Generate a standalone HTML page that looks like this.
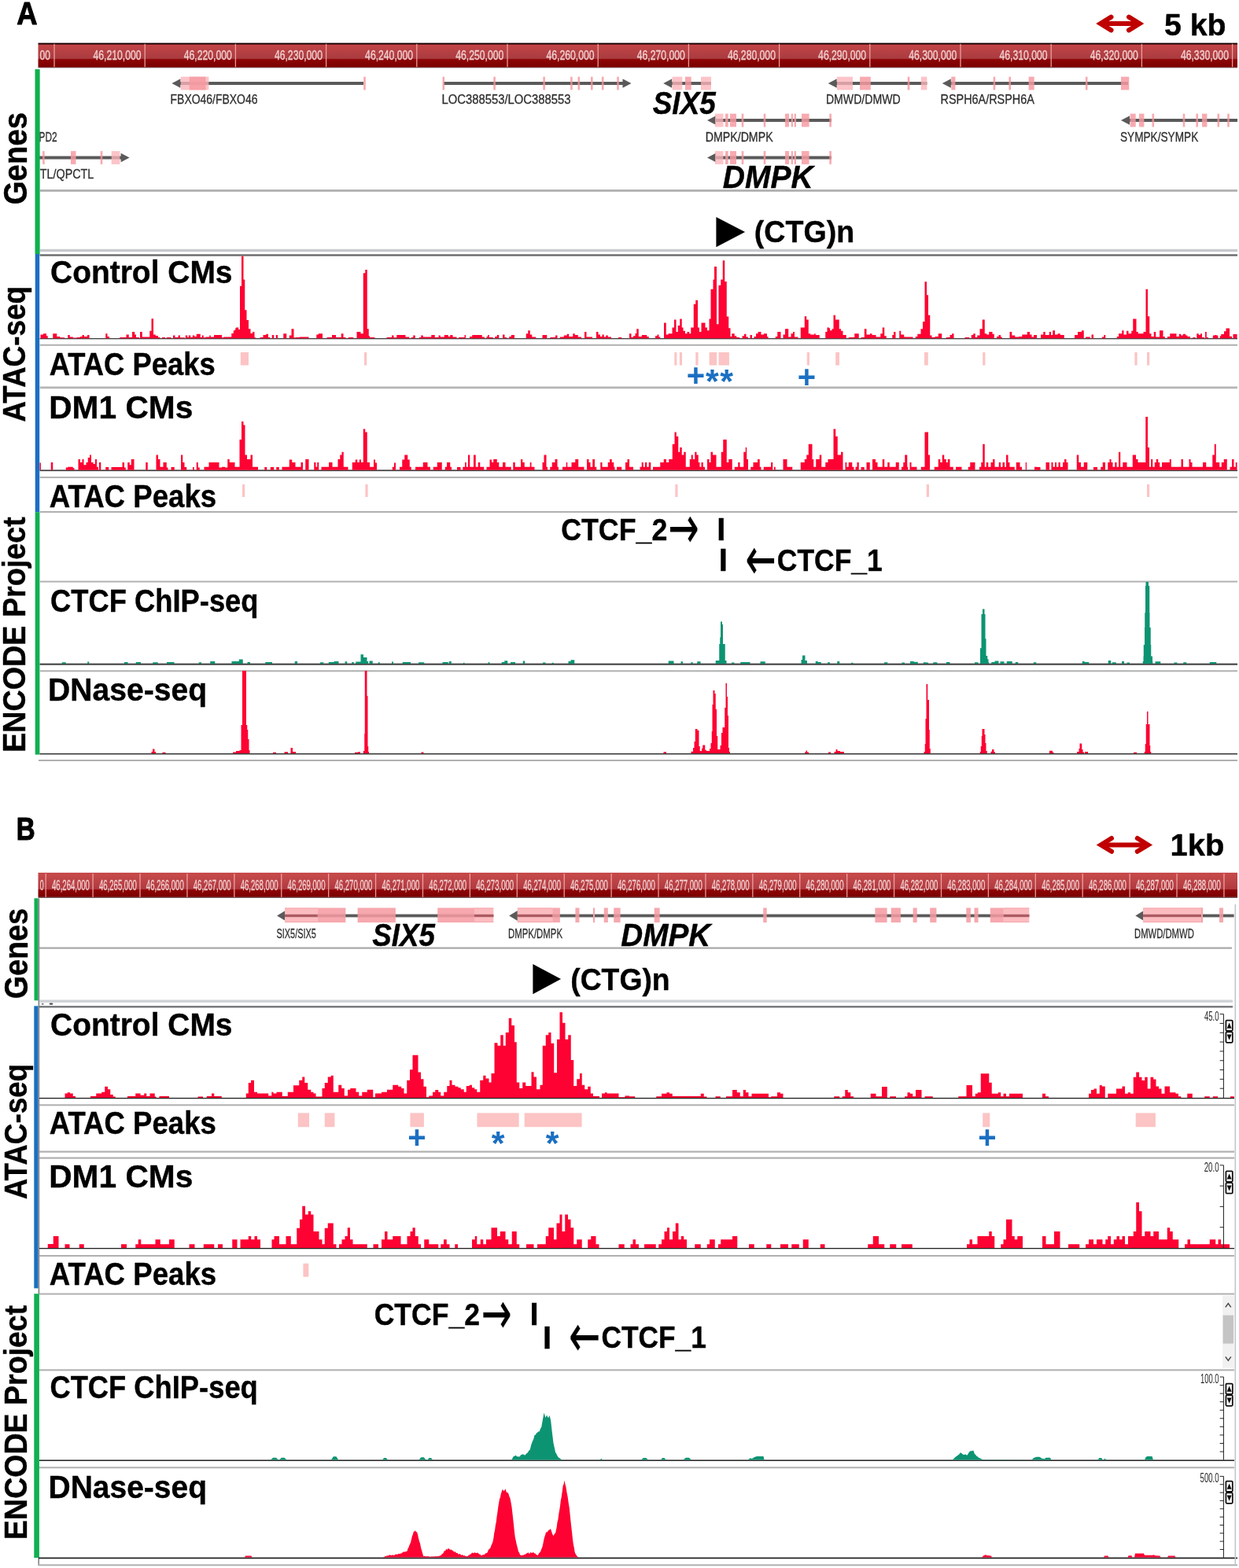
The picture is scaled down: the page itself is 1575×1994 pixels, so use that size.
<!DOCTYPE html>
<html lang="en">
<head>
<meta charset="utf-8">
<title>ATAC-seq genome browser tracks at the DMPK locus</title>
<style>
html,body{margin:0;padding:0;background:#fff;}
body{width:1575px;height:1994px;overflow:hidden;}
svg{display:block;}
text{font-family:"Liberation Sans", sans-serif;white-space:pre;}
text.dv{font-family:"DejaVu Sans", sans-serif;}
</style>
</head>
<body>
<svg width="1575" height="1994" viewBox="0 0 1575 1994" role="img" aria-label="Genome browser tracks of ATAC-seq, CTCF ChIP-seq and DNase-seq at the DMPK locus">
<rect x="0" y="0" width="1575" height="1994" fill="#ffffff"/>
<defs>
<linearGradient id="rulA" x1="0" y1="0" x2="0" y2="1">
<stop offset="0" stop-color="#160000"/><stop offset="0.05" stop-color="#160000"/>
<stop offset="0.07" stop-color="#c34446"/><stop offset="0.62" stop-color="#a93c40"/>
<stop offset="0.66" stop-color="#8e0608"/><stop offset="0.94" stop-color="#7c0000"/>
<stop offset="1" stop-color="#8a6a70"/>
</linearGradient>
<linearGradient id="rulB" x1="0" y1="0" x2="0" y2="1">
<stop offset="0" stop-color="#c2393c"/>
<stop offset="0.06" stop-color="#c64a4a"/><stop offset="0.64" stop-color="#b03a40"/>
<stop offset="0.68" stop-color="#8e0608"/><stop offset="0.93" stop-color="#7c0000"/>
<stop offset="1" stop-color="#7a7478"/>
</linearGradient>
<filter id="soft" x="-5%" y="-50%" width="110%" height="200%"><feGaussianBlur stdDeviation="0.45"/></filter>
<filter id="soft2" x="-5%" y="-50%" width="110%" height="200%"><feGaussianBlur stdDeviation="0.3"/></filter>
</defs>
<text x="21.22" y="31.00" font-size="41.4" font-weight="bold" fill="#000" textLength="26.30" lengthAdjust="spacingAndGlyphs" stroke="#000" stroke-width="1.0" stroke-linejoin="round">A</text>
<g fill="none" stroke="#c00000" stroke-width="6.0" stroke-linecap="round" stroke-linejoin="miter" stroke-miterlimit="6"><path d="M1400.88 30.00H1446.62" stroke-linecap="butt"/><path d="M1412.49 21.60L1398.88 30.00L1412.49 38.40"/><path d="M1435.01 21.60L1448.62 30.00L1435.01 38.40"/></g>
<text x="1479.91" y="45.20" font-size="38" font-weight="bold" fill="#000" textLength="78.69" lengthAdjust="spacingAndGlyphs" stroke="#000" stroke-width="0.4" stroke-linejoin="round">5 kb</text>
<rect x="48.50" y="54.60" width="1524.50" height="31.80" fill="url(#rulA)" />
<rect x="68.35" y="55.80" width="1.30" height="29.40" fill="#f3a9a9" opacity="0.9"/>
<rect x="183.55" y="55.80" width="1.30" height="29.40" fill="#f3a9a9" opacity="0.9"/>
<rect x="298.75" y="55.80" width="1.30" height="29.40" fill="#f3a9a9" opacity="0.9"/>
<rect x="413.95" y="55.80" width="1.30" height="29.40" fill="#f3a9a9" opacity="0.9"/>
<rect x="529.15" y="55.80" width="1.30" height="29.40" fill="#f3a9a9" opacity="0.9"/>
<rect x="644.35" y="55.80" width="1.30" height="29.40" fill="#f3a9a9" opacity="0.9"/>
<rect x="759.55" y="55.80" width="1.30" height="29.40" fill="#f3a9a9" opacity="0.9"/>
<rect x="874.75" y="55.80" width="1.30" height="29.40" fill="#f3a9a9" opacity="0.9"/>
<rect x="989.95" y="55.80" width="1.30" height="29.40" fill="#f3a9a9" opacity="0.9"/>
<rect x="1105.15" y="55.80" width="1.30" height="29.40" fill="#f3a9a9" opacity="0.9"/>
<rect x="1220.35" y="55.80" width="1.30" height="29.40" fill="#f3a9a9" opacity="0.9"/>
<rect x="1335.55" y="55.80" width="1.30" height="29.40" fill="#f3a9a9" opacity="0.9"/>
<rect x="1450.75" y="55.80" width="1.30" height="29.40" fill="#f3a9a9" opacity="0.9"/>
<rect x="1565.95" y="55.80" width="1.30" height="29.40" fill="#f3a9a9" opacity="0.9"/>
<g filter="url(#soft2)">
<text x="118.51" y="76.40" font-size="15.8" font-weight="normal" fill="#f8dcdc" textLength="61.03" lengthAdjust="spacingAndGlyphs" stroke="#fbe6e6" stroke-width="0.3" opacity="0.9">46,210,000</text>
<text x="233.71" y="76.40" font-size="15.8" font-weight="normal" fill="#f8dcdc" textLength="61.03" lengthAdjust="spacingAndGlyphs" stroke="#fbe6e6" stroke-width="0.3" opacity="0.9">46,220,000</text>
<text x="348.91" y="76.40" font-size="15.8" font-weight="normal" fill="#f8dcdc" textLength="61.03" lengthAdjust="spacingAndGlyphs" stroke="#fbe6e6" stroke-width="0.3" opacity="0.9">46,230,000</text>
<text x="464.11" y="76.40" font-size="15.8" font-weight="normal" fill="#f8dcdc" textLength="61.03" lengthAdjust="spacingAndGlyphs" stroke="#fbe6e6" stroke-width="0.3" opacity="0.9">46,240,000</text>
<text x="579.31" y="76.40" font-size="15.8" font-weight="normal" fill="#f8dcdc" textLength="61.03" lengthAdjust="spacingAndGlyphs" stroke="#fbe6e6" stroke-width="0.3" opacity="0.9">46,250,000</text>
<text x="694.51" y="76.40" font-size="15.8" font-weight="normal" fill="#f8dcdc" textLength="61.03" lengthAdjust="spacingAndGlyphs" stroke="#fbe6e6" stroke-width="0.3" opacity="0.9">46,260,000</text>
<text x="809.71" y="76.40" font-size="15.8" font-weight="normal" fill="#f8dcdc" textLength="61.03" lengthAdjust="spacingAndGlyphs" stroke="#fbe6e6" stroke-width="0.3" opacity="0.9">46,270,000</text>
<text x="924.91" y="76.40" font-size="15.8" font-weight="normal" fill="#f8dcdc" textLength="61.03" lengthAdjust="spacingAndGlyphs" stroke="#fbe6e6" stroke-width="0.3" opacity="0.9">46,280,000</text>
<text x="1040.11" y="76.40" font-size="15.8" font-weight="normal" fill="#f8dcdc" textLength="61.03" lengthAdjust="spacingAndGlyphs" stroke="#fbe6e6" stroke-width="0.3" opacity="0.9">46,290,000</text>
<text x="1155.31" y="76.40" font-size="15.8" font-weight="normal" fill="#f8dcdc" textLength="61.03" lengthAdjust="spacingAndGlyphs" stroke="#fbe6e6" stroke-width="0.3" opacity="0.9">46,300,000</text>
<text x="1270.51" y="76.40" font-size="15.8" font-weight="normal" fill="#f8dcdc" textLength="61.03" lengthAdjust="spacingAndGlyphs" stroke="#fbe6e6" stroke-width="0.3" opacity="0.9">46,310,000</text>
<text x="1385.71" y="76.40" font-size="15.8" font-weight="normal" fill="#f8dcdc" textLength="61.03" lengthAdjust="spacingAndGlyphs" stroke="#fbe6e6" stroke-width="0.3" opacity="0.9">46,320,000</text>
<text x="1500.91" y="76.40" font-size="15.8" font-weight="normal" fill="#f8dcdc" textLength="61.03" lengthAdjust="spacingAndGlyphs" stroke="#fbe6e6" stroke-width="0.3" opacity="0.9">46,330,000</text>
<text x="50.62" y="76.40" font-size="15.8" font-weight="normal" fill="#f8dcdc" textLength="13.42" lengthAdjust="spacingAndGlyphs" stroke="#fbe6e6" stroke-width="0.3" opacity="0.9">00</text>
</g>
<rect x="44.70" y="88.20" width="5.70" height="234.70" fill="#10b050" />
<rect x="44.70" y="322.90" width="5.50" height="328.30" fill="#1b6fc2" />
<rect x="44.70" y="651.20" width="5.70" height="308.40" fill="#10b050" />
<text x="34.40" y="260.28" font-size="42.5" font-weight="bold" fill="#000" textLength="117.51" lengthAdjust="spacingAndGlyphs" transform="rotate(-90 34.40 260.28)" stroke="#000" stroke-width="0.4" stroke-linejoin="round">Genes</text>
<text x="32.50" y="536.82" font-size="40" font-weight="bold" fill="#000" textLength="172.97" lengthAdjust="spacingAndGlyphs" transform="rotate(-90 32.50 536.82)" stroke="#000" stroke-width="0.4" stroke-linejoin="round">ATAC-seq</text>
<text x="32.50" y="956.83" font-size="41" font-weight="bold" fill="#000" textLength="299.55" lengthAdjust="spacingAndGlyphs" transform="rotate(-90 32.50 956.83)" stroke="#000" stroke-width="0.4" stroke-linejoin="round">ENCODE Project</text>
<rect x="50.50" y="241.00" width="1522.50" height="2.80" fill="#b0b0b0" />
<rect x="50.50" y="316.80" width="1522.50" height="3.40" fill="#c6c9cd" />
<rect x="50.50" y="323.30" width="1522.50" height="2.40" fill="#6a6a6a" />
<rect x="50.50" y="430.10" width="1522.50" height="1.20" fill="#2e2e2e" />
<rect x="50.50" y="437.80" width="1522.50" height="2.00" fill="#b0b0b0" />
<rect x="50.50" y="491.50" width="1522.50" height="2.80" fill="#b6b6b6" />
<rect x="50.50" y="597.45" width="1522.50" height="1.70" fill="#3a3a3a" />
<rect x="50.50" y="606.10" width="1522.50" height="2.00" fill="#b0b0b0" />
<rect x="50.50" y="650.00" width="1522.50" height="2.00" fill="#b0b0b0" />
<rect x="50.50" y="738.60" width="1522.50" height="2.00" fill="#b2b2b2" />
<rect x="50.50" y="843.60" width="1522.50" height="2.20" fill="#484848" />
<rect x="50.50" y="852.30" width="1522.50" height="2.00" fill="#b0b0b0" />
<rect x="50.50" y="957.90" width="1522.50" height="1.60" fill="#3a3a3a" />
<rect x="49.00" y="966.00" width="1524.00" height="2.00" fill="#b0b0b0" />
<g filter="url(#soft)">
<rect x="228.40" y="104.00" width="233.60" height="4.00" fill="#5a5a5a" />
<polygon points="218.40,106.00 229.40,100.25 229.40,111.75" fill="#5a5a5a" />
<rect x="229.80" y="97.60" width="35.60" height="16.80" fill="#fbb4b8" opacity="0.78"/>
<rect x="240.80" y="97.60" width="20.80" height="16.80" fill="#f59aa1" opacity="0.84"/>
<rect x="462.20" y="97.60" width="2.60" height="16.80" fill="#f7939b" opacity="0.8"/>
<rect x="563.80" y="104.00" width="228.70" height="4.00" fill="#5a5a5a" />
<polygon points="802.50,106.00 791.50,100.25 791.50,111.75" fill="#5a5a5a" />
<rect x="562.50" y="97.60" width="2.60" height="16.80" fill="#f7939b" opacity="0.8"/>
<rect x="627.30" y="97.60" width="2.60" height="16.80" fill="#f7939b" opacity="0.8"/>
<rect x="690.30" y="97.60" width="2.60" height="16.80" fill="#f7939b" opacity="0.8"/>
<rect x="725.10" y="97.60" width="2.60" height="16.80" fill="#f7939b" opacity="0.8"/>
<rect x="734.50" y="97.60" width="2.60" height="16.80" fill="#f7939b" opacity="0.8"/>
<rect x="751.00" y="97.60" width="2.60" height="16.80" fill="#f7939b" opacity="0.8"/>
<rect x="764.90" y="97.60" width="2.60" height="16.80" fill="#f7939b" opacity="0.8"/>
<rect x="784.20" y="97.60" width="2.60" height="16.80" fill="#f7939b" opacity="0.8"/>
<rect x="853.20" y="104.00" width="50.80" height="4.00" fill="#5a5a5a" />
<polygon points="843.20,106.00 854.20,100.25 854.20,111.75" fill="#5a5a5a" />
<rect x="854.60" y="97.60" width="12.70" height="16.80" fill="#fbb4b8" opacity="0.78"/>
<rect x="891.00" y="97.60" width="13.00" height="16.80" fill="#fbb4b8" opacity="0.78"/>
<rect x="871.00" y="97.60" width="7.70" height="16.80" fill="#f59aa1" opacity="0.84"/>
<rect x="1062.70" y="104.00" width="115.70" height="4.00" fill="#5a5a5a" />
<polygon points="1052.70,106.00 1063.70,100.25 1063.70,111.75" fill="#5a5a5a" />
<rect x="1064.00" y="97.60" width="20.00" height="16.80" fill="#fbb4b8" opacity="0.78"/>
<rect x="1170.80" y="97.60" width="7.60" height="16.80" fill="#fbb4b8" opacity="0.78"/>
<rect x="1093.00" y="97.60" width="13.80" height="16.80" fill="#f59aa1" opacity="0.84"/>
<rect x="1153.70" y="97.60" width="2.60" height="16.80" fill="#f7939b" opacity="0.8"/>
<rect x="1207.80" y="104.00" width="226.20" height="4.00" fill="#5a5a5a" />
<polygon points="1197.80,106.00 1208.80,100.25 1208.80,111.75" fill="#5a5a5a" />
<rect x="1209.30" y="97.60" width="5.10" height="16.80" fill="#f59aa1" opacity="0.84"/>
<rect x="1307.60" y="97.60" width="7.10" height="16.80" fill="#f59aa1" opacity="0.84"/>
<rect x="1425.00" y="97.60" width="10.30" height="16.80" fill="#f59aa1" opacity="0.84"/>
<rect x="1262.60" y="97.60" width="2.60" height="16.80" fill="#f7939b" opacity="0.8"/>
<rect x="1282.40" y="97.60" width="2.60" height="16.80" fill="#f7939b" opacity="0.8"/>
<rect x="1379.90" y="97.60" width="2.60" height="16.80" fill="#f7939b" opacity="0.8"/>
<rect x="909.00" y="151.00" width="148.00" height="4.00" fill="#5a5a5a" />
<polygon points="899.00,153.00 910.00,147.25 910.00,158.75" fill="#5a5a5a" />
<rect x="909.00" y="144.60" width="10.40" height="16.80" fill="#fbb4b8" opacity="0.78"/>
<rect x="922.00" y="144.60" width="3.70" height="16.80" fill="#f59aa1" opacity="0.84"/>
<rect x="928.00" y="144.60" width="8.00" height="16.80" fill="#f59aa1" opacity="0.84"/>
<rect x="998.00" y="144.60" width="5.00" height="16.80" fill="#f59aa1" opacity="0.84"/>
<rect x="1005.70" y="144.60" width="2.30" height="16.80" fill="#f59aa1" opacity="0.84"/>
<rect x="1009.60" y="144.60" width="2.40" height="16.80" fill="#f59aa1" opacity="0.84"/>
<rect x="1019.00" y="144.60" width="9.60" height="16.80" fill="#f59aa1" opacity="0.84"/>
<rect x="942.70" y="144.60" width="2.60" height="16.80" fill="#f7939b" opacity="0.8"/>
<rect x="970.70" y="144.60" width="2.60" height="16.80" fill="#f7939b" opacity="0.8"/>
<rect x="1054.30" y="144.60" width="2.60" height="16.80" fill="#f7939b" opacity="0.8"/>
<rect x="909.00" y="198.50" width="148.00" height="4.00" fill="#5a5a5a" />
<polygon points="899.00,200.50 910.00,194.75 910.00,206.25" fill="#5a5a5a" />
<rect x="909.00" y="192.10" width="10.40" height="16.80" fill="#fbb4b8" opacity="0.78"/>
<rect x="922.00" y="192.10" width="3.70" height="16.80" fill="#f59aa1" opacity="0.84"/>
<rect x="928.00" y="192.10" width="8.00" height="16.80" fill="#f59aa1" opacity="0.84"/>
<rect x="998.00" y="192.10" width="5.00" height="16.80" fill="#f59aa1" opacity="0.84"/>
<rect x="1005.70" y="192.10" width="2.30" height="16.80" fill="#f59aa1" opacity="0.84"/>
<rect x="1009.60" y="192.10" width="2.40" height="16.80" fill="#f59aa1" opacity="0.84"/>
<rect x="1019.00" y="192.10" width="9.60" height="16.80" fill="#f59aa1" opacity="0.84"/>
<rect x="942.70" y="192.10" width="2.60" height="16.80" fill="#f7939b" opacity="0.8"/>
<rect x="970.70" y="192.10" width="2.60" height="16.80" fill="#f7939b" opacity="0.8"/>
<rect x="1054.30" y="192.10" width="2.60" height="16.80" fill="#f7939b" opacity="0.8"/>
<rect x="1435.00" y="151.00" width="138.00" height="4.00" fill="#5a5a5a" />
<polygon points="1425.00,153.00 1436.00,147.25 1436.00,158.75" fill="#5a5a5a" />
<rect x="1436.60" y="144.60" width="7.10" height="16.80" fill="#f59aa1" opacity="0.84"/>
<rect x="1448.00" y="144.60" width="6.40" height="16.80" fill="#f59aa1" opacity="0.84"/>
<rect x="1528.00" y="144.60" width="6.40" height="16.80" fill="#f59aa1" opacity="0.84"/>
<rect x="1464.50" y="144.60" width="2.60" height="16.80" fill="#f7939b" opacity="0.8"/>
<rect x="1503.70" y="144.60" width="2.60" height="16.80" fill="#f7939b" opacity="0.8"/>
<rect x="1520.40" y="144.60" width="2.60" height="16.80" fill="#f7939b" opacity="0.8"/>
<rect x="1547.50" y="144.60" width="2.60" height="16.80" fill="#f7939b" opacity="0.8"/>
<rect x="1560.20" y="144.60" width="2.60" height="16.80" fill="#f7939b" opacity="0.8"/>
<rect x="50.00" y="198.50" width="104.60" height="4.00" fill="#5a5a5a" />
<polygon points="164.60,200.50 153.60,194.75 153.60,206.25" fill="#5a5a5a" />
<rect x="141.70" y="192.10" width="10.70" height="16.80" fill="#fbb4b8" opacity="0.78"/>
<rect x="90.00" y="192.10" width="6.50" height="16.80" fill="#f59aa1" opacity="0.84"/>
<rect x="54.10" y="192.10" width="2.60" height="16.80" fill="#f7939b" opacity="0.8"/>
<rect x="127.70" y="192.10" width="2.60" height="16.80" fill="#f7939b" opacity="0.8"/>
<text x="216.55" y="132.30" font-size="16.6" font-weight="normal" fill="#2e2e2e" textLength="110.89" lengthAdjust="spacingAndGlyphs" stroke="#2e2e2e" stroke-width="0.3">FBXO46/FBXO46</text>
<text x="561.38" y="132.30" font-size="16.6" font-weight="normal" fill="#2e2e2e" textLength="164.15" lengthAdjust="spacingAndGlyphs" stroke="#2e2e2e" stroke-width="0.3">LOC388553/LOC388553</text>
<text x="1049.94" y="132.30" font-size="16.6" font-weight="normal" fill="#2e2e2e" textLength="94.71" lengthAdjust="spacingAndGlyphs" stroke="#2e2e2e" stroke-width="0.3">DMWD/DMWD</text>
<text x="1195.51" y="132.30" font-size="16.6" font-weight="normal" fill="#2e2e2e" textLength="119.33" lengthAdjust="spacingAndGlyphs" stroke="#2e2e2e" stroke-width="0.3">RSPH6A/RSPH6A</text>
<text x="896.73" y="180.00" font-size="16.6" font-weight="normal" fill="#2e2e2e" textLength="85.88" lengthAdjust="spacingAndGlyphs" stroke="#2e2e2e" stroke-width="0.3">DMPK/DMPK</text>
<text x="1423.98" y="180.00" font-size="16.6" font-weight="normal" fill="#2e2e2e" textLength="99.27" lengthAdjust="spacingAndGlyphs" stroke="#2e2e2e" stroke-width="0.3">SYMPK/SYMPK</text>
<text x="49.51" y="180.00" font-size="16.6" font-weight="normal" fill="#2e2e2e" textLength="23.05" lengthAdjust="spacingAndGlyphs" stroke="#2e2e2e" stroke-width="0.3">PD2</text>
<text x="50.78" y="227.00" font-size="16.6" font-weight="normal" fill="#2e2e2e" textLength="68.60" lengthAdjust="spacingAndGlyphs" stroke="#2e2e2e" stroke-width="0.3">TL/QPCTL</text>
</g>
<rect x="44.70" y="88.20" width="5.70" height="234.70" fill="#10b050" />
<text x="829.74" y="144.60" font-size="40" font-weight="bold" fill="#000" font-style="italic" textLength="80.07" lengthAdjust="spacingAndGlyphs" stroke="#000" stroke-width="0.4" stroke-linejoin="round">SIX5</text>
<text x="918.87" y="239.40" font-size="40" font-weight="bold" fill="#000" font-style="italic" textLength="114.77" lengthAdjust="spacingAndGlyphs" stroke="#000" stroke-width="0.4" stroke-linejoin="round">DMPK</text>
<text x="910.26" y="307.70" font-size="50" font-weight="bold" fill="#000" textLength="36.98" lengthAdjust="spacingAndGlyphs"  class="dv">▶</text>
<text x="958.75" y="307.50" font-size="38.5" font-weight="bold" fill="#000" textLength="127.44" lengthAdjust="spacingAndGlyphs" stroke="#000" stroke-width="0.4" stroke-linejoin="round">(CTG)n</text>
<text x="64.00" y="360.30" font-size="40" font-weight="bold" fill="#000" textLength="231.52" lengthAdjust="spacingAndGlyphs" stroke="#000" stroke-width="0.4" stroke-linejoin="round">Control CMs</text>
<text x="62.79" y="476.50" font-size="40" font-weight="bold" fill="#000" textLength="210.84" lengthAdjust="spacingAndGlyphs" stroke="#000" stroke-width="0.4" stroke-linejoin="round">ATAC Peaks</text>
<text x="62.20" y="531.60" font-size="40" font-weight="bold" fill="#000" textLength="183.21" lengthAdjust="spacingAndGlyphs" stroke="#000" stroke-width="0.4" stroke-linejoin="round">DM1 CMs</text>
<text x="62.78" y="644.60" font-size="40" font-weight="bold" fill="#000" textLength="212.36" lengthAdjust="spacingAndGlyphs" stroke="#000" stroke-width="0.4" stroke-linejoin="round">ATAC Peaks</text>
<text x="64.11" y="777.60" font-size="40" font-weight="bold" fill="#000" textLength="264.37" lengthAdjust="spacingAndGlyphs" stroke="#000" stroke-width="0.4" stroke-linejoin="round">CTCF ChIP-seq</text>
<text x="61.01" y="891.00" font-size="40" font-weight="bold" fill="#000" textLength="202.19" lengthAdjust="spacingAndGlyphs" stroke="#000" stroke-width="0.4" stroke-linejoin="round">DNase-seq</text>
<text x="713.19" y="687.00" font-size="38" font-weight="bold" fill="#000" textLength="135.10" lengthAdjust="spacingAndGlyphs" stroke="#000" stroke-width="0.4" stroke-linejoin="round">CTCF_2</text>
<text class="dv" transform="translate(849.38 697.46) scale(1 1.3)" x="0" y="0" font-size="58" font-weight="normal" fill="#000" stroke="#000" stroke-width="0.25" textLength="39.23" lengthAdjust="spacingAndGlyphs">→</text>
<text x="911.17" y="686.50" font-size="40" font-weight="bold" fill="#000" stroke="#000" stroke-width="0.4" stroke-linejoin="round">I</text>
<text x="913.67" y="726.30" font-size="40" font-weight="bold" fill="#000" stroke="#000" stroke-width="0.4" stroke-linejoin="round">I</text>
<text class="dv" transform="translate(947.59 737.16) scale(1 1.3)" x="0" y="0" font-size="58" font-weight="normal" fill="#000" stroke="#000" stroke-width="0.25" textLength="39.12" lengthAdjust="spacingAndGlyphs">←</text>
<text x="987.80" y="726.30" font-size="38" font-weight="bold" fill="#000" textLength="134.01" lengthAdjust="spacingAndGlyphs" stroke="#000" stroke-width="0.4" stroke-linejoin="round">CTCF_1</text>
<rect x="305.80" y="448.00" width="10.20" height="16.50" fill="#fcc4c4" />
<rect x="463.00" y="448.00" width="3.20" height="16.50" fill="#fcc4c4" />
<rect x="857.30" y="448.00" width="3.10" height="16.50" fill="#fcc4c4" />
<rect x="863.80" y="448.00" width="3.20" height="16.50" fill="#fcc4c4" />
<rect x="884.30" y="448.00" width="3.30" height="16.50" fill="#fcc4c4" />
<rect x="901.60" y="448.00" width="9.60" height="16.50" fill="#fcc4c4" />
<rect x="913.60" y="448.00" width="13.30" height="16.50" fill="#fcc4c4" />
<rect x="1025.80" y="448.00" width="3.20" height="16.50" fill="#fcc4c4" />
<rect x="1062.20" y="448.00" width="4.80" height="16.50" fill="#fcc4c4" />
<rect x="1175.00" y="448.00" width="4.80" height="16.50" fill="#fcc4c4" />
<rect x="1249.20" y="448.00" width="3.20" height="16.50" fill="#fcc4c4" />
<rect x="1442.40" y="448.00" width="3.20" height="16.50" fill="#fcc4c4" />
<rect x="1458.00" y="448.00" width="3.20" height="16.50" fill="#fcc4c4" />
<rect x="308.00" y="616.00" width="3.20" height="16.00" fill="#fcc4c4" />
<rect x="464.40" y="616.00" width="3.20" height="16.00" fill="#fcc4c4" />
<rect x="858.30" y="616.00" width="3.20" height="16.00" fill="#fcc4c4" />
<rect x="1177.80" y="616.00" width="3.20" height="16.00" fill="#fcc4c4" />
<rect x="1458.00" y="616.00" width="3.20" height="16.00" fill="#fcc4c4" />
<text x="872.85" y="490.75" font-size="40" font-weight="bold" fill="#1b6fc2" >+</text>
<text x="897.02" y="498.62" font-size="43" font-weight="bold" fill="#1b6fc2" >*</text>
<text x="915.33" y="498.62" font-size="43" font-weight="bold" fill="#1b6fc2" >*</text>
<text x="1013.75" y="493.25" font-size="40" font-weight="bold" fill="#1b6fc2" >+</text>
<path d="M50.50 430.20V430.20H51.50V425.58H55.00V424.26H59.00V427.23H60.75V430.20H67.25V424.26H72.25V428.05H76.25V429.21H82.25V430.20H86.25V425.91H88.75V428.55H92.75V429.54H97.75V428.88H102.00V428.05H104.50V425.91H107.00V428.05H111.00V425.91H113.50V430.20H134.25V424.26H136.50V428.05H139.00V430.20H152.25V428.88H160.50V425.58H163.75V428.88H168.00V421.95H171.25V425.58H173.00V428.88H177.00V430.20H178.00V421.95H180.75V428.55H190.25V420.63H192.50V405.27H195.00V425.58H197.75V426.90H201.00V428.88H203.50V430.20H206.00V428.88H210.00V430.20H211.75V428.88H217.50V430.20H220.00V426.40H222.50V428.88H226.50V426.40H229.00V429.21H234.75V430.20H235.75V426.40H238.25V428.88H239.75V426.40H242.25V428.88H244.75V426.40H247.25V428.05H249.75V424.75H254.75V428.88H256.75V426.40H258.75V429.21H261.25V428.55H266.25V426.40H267.75V428.55H272.00V425.91H282.00V429.21H284.25V428.55H294.25V423.93H296.75V420.63H297.50V419.80H299.25V417.32H300.00V416.50H303.25V418.97H305.00V363.67H307.00V325.70H309.50V355.42H311.25V394.21H313.50V407.09H316.00V418.15H318.50V423.93H321.00V421.95H323.50V428.88H324.75V430.20H330.50V428.88H334.50V425.91H338.25V424.75H341.00V428.88H343.25V430.20H345.75V425.91H348.25V430.20H350.75V425.91H353.00V430.20H360.25V424.26H364.25V430.20H367.75V426.40H370.50V418.15H373.50V429.21H376.00V428.88H380.75V428.55H392.50V430.20H402.25V425.58H404.75V424.26H410.00V430.20H415.50V428.88H422.00V425.91H427.00V428.88H433.75V424.26H436.50V428.88H439.50V430.20H442.75V428.88H449.25V430.20H453.50V421.95H458.50V424.26H461.75V347.17H464.25V343.04H466.75V418.15H468.75V427.23H470.00V428.88H476.50V430.20H491.50V428.88H498.00V426.40H500.50V429.21H504.25V425.91H515.50V428.55H520.25V430.20H522.75V428.88H525.25V426.40H527.75V430.20H532.75V428.88H535.25V426.40H537.75V428.55H548.25V425.91H552.75V428.88H557.50V426.40H559.75V428.55H564.75V425.91H569.75V428.05H572.25V425.91H575.50V428.55H580.50V430.20H583.00V428.88H590.50V425.91H592.00V430.20H597.00V428.05H600.25V425.91H612.75V428.55H616.00V430.20H618.50V428.05H620.00V425.91H621.75V428.88H626.75V430.20H629.25V428.05H631.75V425.91H634.25V430.20H639.00V425.58H641.50V428.88H644.00V430.20H647.25V428.05H649.75V425.91H654.00V430.20H668.75V424.26H671.25V420.30H673.75V425.58H676.25V428.55H681.25V430.20H689.50V425.91H695.25V430.20H699.25V428.88H706.00V426.40H708.50V430.20H711.75V428.55H716.75V426.40H720.75V424.75H723.25V428.05H728.25V424.26H730.75V425.91H734.75V428.55H739.00V430.20H743.00V421.95H745.50V428.55H753.00V430.20H758.00V421.95H760.50V425.58H763.00V428.05H765.50V425.58H767.75V428.55H770.25V426.40H772.75V428.55H777.00V430.20H786.00V428.88H790.25V430.20H800.00V424.26H802.50V428.88H805.00V427.23H807.50V423.93H809.25V418.15H811.75V428.05H815.75V425.91H822.25V428.05H824.75V430.20H833.00V427.23H835.50V425.58H837.50V428.55H839.25V430.20H844.00V410.39H846.75V425.58H849.50V424.26H854.50V416.50H857.00V406.59H859.50V421.95H861.75V414.02H864.25V405.44H866.75V416.50H868.50V420.63H871.00V424.26H873.50V421.95H876.25V424.26H878.25V416.50H881.75V386.78H884.25V381.83H887.00V416.50H889.00V421.95H891.50V410.39H896.50V416.50H899.00V420.30H901.50V405.44H903.50V367.80H906.50V355.42H908.00V338.91H911.00V412.37H913.50V362.85H916.25V355.42H918.75V331.15H921.25V357.90H923.75V402.47H926.25V417.32H928.50V428.05H930.25V424.26H933.75V427.23H936.25V428.88H940.25V430.20H943.50V427.23H946.00V424.75H948.50V428.55H951.00V430.20H953.50V425.91H956.00V430.20H958.50V428.05H961.00V424.26H963.50V421.95H967.50V425.58H970.75V424.26H975.00V428.05H976.50V430.20H985.75V428.05H988.25V421.95H992.50V430.20H995.50V425.58H998.00V418.15H1002.25V428.55H1005.50V424.26H1008.00V421.95H1010.00V428.55H1014.50V430.20H1017.75V416.50H1022.75V402.14H1025.25V406.59H1027.75V424.26H1030.25V425.58H1035.25V424.26H1036.75V425.91H1041.75V430.20H1049.25V421.95H1051.50V416.50H1054.00V417.32H1055.00V420.30H1057.50V418.15H1059.50V400.82H1062.00V406.59H1066.75V418.15H1069.00V420.63H1071.50V425.91H1075.75V430.20H1078.75V428.88H1086.25V424.26H1091.75V430.20H1094.50V428.88H1098.75V418.15H1101.50V425.58H1106.00V424.26H1108.50V425.91H1113.50V428.55H1119.25V424.26H1121.75V416.50H1124.25V427.23H1126.75V430.20H1134.25V425.91H1136.00V421.95H1138.50V430.20H1143.25V420.63H1145.25V425.58H1149.25V428.55H1160.50V430.20H1163.75V428.05H1166.25V424.75H1170.50V418.15H1173.00V409.07H1175.50V358.23H1178.00V375.23H1180.00V400.82H1182.25V426.40H1184.50V428.88H1188.50V428.05H1192.75V424.26H1197.25V430.20H1202.75V428.88H1207.50V425.91H1210.00V424.26H1212.50V430.20H1226.50V428.88H1232.25V430.20H1234.75V425.91H1237.25V424.26H1239.75V428.88H1242.25V426.40H1245.50V418.15H1248.75V406.59H1251.75V424.26H1254.25V425.58H1257.25V421.95H1261.50V424.75H1263.75V430.20H1267.00V428.05H1269.50V425.91H1272.00V428.55H1273.75V430.20H1283.50V421.95H1286.25V426.40H1290.25V428.55H1295.00V428.05H1299.25V425.58H1305.75V421.95H1309.00V425.58H1311.50V428.55H1314.00V425.91H1318.00V430.20H1323.00V425.58H1326.25V421.95H1328.75V425.91H1333.75V421.95H1336.00V425.91H1338.25V420.30H1341.00V425.58H1344.50V424.26H1347.75V425.91H1352.75V430.20H1366.00V425.91H1370.00V421.95H1375.00V420.30H1377.75V430.20H1380.00V428.55H1385.75V430.20H1387.50V425.58H1390.00V430.20H1400.75V428.55H1403.25V425.91H1405.25V430.20H1419.75V428.05H1422.00V424.26H1426.25V420.30H1428.50V425.58H1432.00V420.63H1434.50V424.26H1438.25V420.63H1440.25V405.44H1444.50V421.95H1446.75V424.26H1453.50V421.95H1456.50V367.80H1459.00V402.14H1461.25V424.26H1463.50V428.05H1466.75V421.95H1469.25V428.55H1474.00V420.30H1478.50V428.05H1480.75V430.20H1484.00V428.05H1487.25V424.26H1495.50V428.05H1498.75V424.75H1501.25V426.40H1503.75V424.75H1507.25V426.40H1509.50V428.05H1513.00V430.20H1516.25V428.88H1519.50V430.20H1521.25V424.26H1523.75V425.91H1526.00V424.26H1528.00V428.88H1531.00V430.20H1532.00V421.95H1533.75V428.88H1536.00V430.20H1541.75V427.23H1542.00V426.39H1544.25V425.91H1546.25V426.39H1548.25V428.55H1548.50V430.20H1550.75V427.23H1552.25V425.12H1556.00V421.31H1558.50V417.50H1563.00V427.66H1566.00V430.20H1567.50V425.12H1572.50V430.20H1573.25V430.20Z" fill="#fd0232" />
<path d="M50.50 597.80V588.39H52.00V597.80H64.75V587.90H67.25V597.80H83.75V594.50H86.25V593.67H92.75V595.32H94.50V597.80H99.50V584.10H102.00V587.90H104.50V584.10H106.50V591.20H109.50V587.90H111.75V582.12H114.00V578.49H116.00V587.90H118.50V590.04H121.00V584.10H123.00V593.67H125.00V597.80H126.00V587.90H128.25V597.80H134.25V594.00H138.25V597.80H141.50V594.00H155.50V587.90H158.00V594.50H159.75V597.80H162.25V587.90H164.75V591.20H166.75V584.10H170.50V597.80H185.25V587.90H187.75V597.80H198.50V578.49H201.00V584.10H203.50V593.67H207.50V587.90H211.75V594.50H213.50V597.80H217.50V594.00H221.75V597.80H230.00V578.49H232.25V587.90H234.50V594.00H237.25V597.80H245.00V594.00H246.75V597.80H249.75V587.90H251.75V594.50H253.75V597.80H259.50V593.67H265.50V587.90H278.50V594.50H282.00V593.67H286.00V594.50H289.25V584.10H291.75V587.90H298.50V593.67H304.50V559.01H307.00V535.90H309.50V540.52H311.50V578.49H314.00V584.10H318.50V578.49H321.00V593.67H328.00V597.80H336.25V594.00H339.25V597.80H343.75V594.00H348.25V597.80H351.25V594.00H354.75V597.80H358.50V593.67H367.75V584.59H371.25V587.90H375.50V593.67H382.50V587.90H385.00V597.80H388.25V584.10H392.50V597.80H399.25V587.90H401.50V593.67H403.25V587.90H405.25V597.80H408.50V593.67H418.00V587.90H422.50V593.67H429.50V584.10H432.25V578.49H434.50V574.69H436.75V593.67H442.50V597.80H447.75V587.90H451.75V584.59H454.25V587.90H456.75V584.59H459.00V587.90H461.75V545.47H464.25V549.43H466.75V587.90H470.00V593.67H475.00V584.59H477.00V588.39H479.00V597.80H498.75V593.67H501.00V588.39H503.00V597.80H508.00V593.67H511.25V584.59H514.25V578.49H518.25V584.59H520.75V593.67H522.75V597.80H528.00V593.67H537.75V587.90H543.50V593.67H547.00V597.80H550.75V593.67H555.75V587.90H561.75V597.80H565.75V593.67H568.00V587.90H572.25V593.67H574.00V597.80H581.00V594.00H585.50V597.80H588.25V593.67H591.00V587.90H592.75V593.67H595.00V578.49H597.25V593.67H602.00V578.49H604.75V593.67H607.75V587.90H610.25V593.67H615.25V597.80H618.50V593.67H622.50V584.59H625.00V587.90H627.25V584.10H631.75V587.90H634.25V593.67H639.00V587.90H642.50V593.67H649.75V597.80H652.25V587.90H654.75V593.67H662.00V584.10H664.25V587.90H666.75V593.67H673.75V587.90H675.50V593.67H679.50V597.80H689.50V587.90H691.50V578.49H694.50V593.67H696.00V597.80H699.25V593.67H701.75V587.90H705.50V584.10H708.50V593.67H710.00V597.80H715.00V593.67H719.75V587.90H721.25V593.67H726.50V587.90H731.25V584.10H735.25V593.67H742.50V597.80H746.00V584.10H748.50V587.90H750.50V593.67H753.25V584.10H756.00V593.67H758.25V597.80H763.25V587.90H765.50V593.67H772.75V587.90H775.00V584.10H777.75V587.90H780.25V593.67H781.50V597.80H784.00V593.67H790.25V597.80H795.00V587.90H797.50V584.10H800.00V593.67H805.00V597.80H813.50V593.67H815.75V587.90H817.75V593.67H820.00V587.90H822.25V593.67H824.75V587.90H827.25V597.80H830.00V593.67H839.25V587.90H843.75V584.10H847.00V587.90H850.25V584.10H854.75V564.78H857.50V549.43H859.75V554.88H862.25V574.69H864.25V568.91H866.75V578.49H869.25V574.69H871.75V593.67H876.75V584.10H878.75V578.49H880.75V584.10H883.25V574.69H885.50V578.49H887.75V587.90H889.50V593.67H891.50V587.90H893.75V593.67H896.00V597.80H899.00V584.10H901.50V587.90H903.50V574.69H906.00V578.49H910.50V593.67H916.75V574.69H919.25V559.01H923.75V587.90H926.25V584.10H930.75V597.80H933.75V593.67H938.25V587.90H940.50V593.67H945.25V574.69H947.75V568.91H949.25V584.10H951.00V597.80H954.25V593.67H957.50V587.90H963.00V584.10H965.75V593.67H967.50V597.80H970.75V593.67H980.00V587.90H982.25V597.80H984.00V593.67H985.75V597.80H995.50V584.10H1000.50V593.67H1007.25V597.80H1017.75V587.90H1022.75V584.10H1025.25V578.49H1027.75V564.78H1032.50V584.10H1034.25V593.67H1037.25V584.10H1041.75V578.49H1044.25V593.67H1049.25V587.90H1052.50V584.10H1059.50V545.47H1062.25V554.88H1064.75V578.49H1069.00V574.69H1071.50V597.80H1074.50V587.90H1076.25V593.67H1078.75V587.90H1083.25V593.67H1085.50V597.80H1087.50V593.67H1089.50V587.90H1091.75V597.80H1094.50V594.00H1098.75V597.80H1101.50V587.90H1105.75V597.80H1109.00V584.10H1113.00V587.90H1115.50V593.67H1121.75V584.10H1124.25V593.67H1128.25V587.90H1130.75V593.67H1138.75V587.90H1142.75V597.80H1146.00V593.67H1148.25V587.90H1150.25V578.49H1153.25V593.67H1154.25V597.80H1156.50V587.90H1158.50V593.67H1165.50V597.80H1170.75V593.67H1175.50V549.43H1180.00V578.49H1182.00V597.80H1187.75V593.67H1192.75V584.10H1195.25V587.90H1197.75V578.49H1200.25V584.10H1202.75V587.90H1204.75V584.10H1207.50V593.67H1211.75V597.80H1215.00V593.67H1222.50V597.80H1230.75V593.67H1233.25V587.90H1239.50V597.80H1245.00V593.67H1247.25V587.90H1249.25V564.78H1251.75V593.67H1253.75V587.90H1256.25V593.67H1259.50V587.90H1262.00V584.10H1264.50V593.67H1269.75V587.90H1272.00V593.67H1274.50V587.90H1277.00V593.67H1279.00V578.49H1281.50V587.90H1283.50V593.67H1289.75V597.80H1291.75V587.90H1296.50V593.67H1299.00V597.80H1303.75V587.90H1305.00V597.80H1315.00V593.67H1318.25V594.00H1322.50V597.80H1329.50V587.90H1334.00V597.80H1336.50V587.90H1338.50V593.67H1341.00V587.90H1343.00V593.67H1345.50V587.90H1347.75V593.67H1351.00V587.90H1353.00V584.10H1355.50V587.90H1357.50V597.80H1368.75V578.49H1371.25V587.90H1374.00V593.67H1377.75V587.90H1382.25V597.80H1390.00V594.00H1395.00V597.80H1399.25V593.67H1401.75V587.90H1405.00V597.80H1408.25V587.90H1410.50V584.10H1412.50V587.90H1414.50V593.67H1417.25V587.90H1419.50V593.67H1422.00V574.69H1424.25V593.67H1427.25V587.90H1432.50V593.67H1439.75V578.49H1444.00V584.10H1446.50V587.90H1456.25V530.12H1459.00V568.91H1461.00V593.67H1463.00V584.10H1465.25V593.67H1467.75V587.90H1469.75V584.10H1472.25V587.90H1474.25V593.67H1477.00V587.90H1486.75V584.10H1488.75V593.67H1501.50V584.10H1504.00V593.67H1511.50V584.10H1513.50V587.90H1515.50V593.67H1529.00V587.90H1533.25V593.67H1541.25V578.49H1543.75V564.78H1545.75V587.90H1550.25V593.67H1552.75V587.90H1555.75V584.10H1559.75V597.80H1563.50V593.67H1566.00V584.10H1568.50V593.67H1570.75V587.90H1572.50V597.80H1573.25V597.80Z" fill="#fd0232" />
<path d="M50.50 843.90V843.90H78.75V842.30H83.75V843.90H111.25V841.50H113.25V843.90H158.00V841.90H162.50V843.90H172.75V841.90H179.00V843.90H194.25V842.30H200.75V843.90H212.00V841.90H221.50V843.90H252.75V842.30H256.00V843.90H267.25V840.90H273.25V843.90H294.50V840.90H303.75V838.50H308.75V843.90H314.50V841.90H318.00V843.90H337.25V841.90H346.00V843.90H374.75V840.90H378.00V843.90H407.00V842.30H411.25V843.90H417.75V841.90H424.50V840.90H430.50V843.90H438.50V841.30H441.25V843.90H447.25V841.90H449.75V843.90H452.25V841.50H458.50V832.30H462.00V835.90H466.50V840.90H468.00V843.90H469.50V840.50H473.75V843.90H480.75V842.30H482.75V843.90H498.00V841.50H500.00V843.90H511.75V841.90H522.00V843.90H532.00V842.30H539.25V843.90H562.50V841.90H569.75V843.90H570.75V840.90H573.75V843.90H589.00V842.70H590.50V843.90H620.50V842.30H622.50V843.90H637.75V841.90H641.25V840.30H645.25V843.90H649.00V841.90H655.00V843.90H664.75V840.50H667.25V843.90H690.00V842.50H693.50V843.90H701.75V842.70H703.75V843.90H722.50V840.90H725.50V839.30H730.25V843.90H849.75V840.50H856.50V843.90H865.50V841.30H868.00V843.90H878.25V842.30H880.75V843.90H886.25V841.30H890.50V843.90H909.75V839.90H914.25V818.90H915.25V810.50H916.00V790.60H918.00V793.90H919.00V818.90H921.75V839.90H923.50V843.90H930.00V842.50H933.50V843.90H941.25V842.10H953.50V843.90H966.50V841.30H972.75V843.90H1018.50V838.90H1020.00V833.50H1023.50V839.90H1026.00V843.90H1036.75V840.90H1039.75V842.10H1043.75V843.90H1052.00V842.30H1055.00V843.90H1064.25V841.10H1067.25V843.90H1082.00V842.70H1084.50V843.90H1124.00V842.30H1128.25V843.90H1146.50V842.50H1150.00V843.90H1157.00V841.10H1161.75V841.70H1166.75V843.90H1173.75V842.30H1177.50V842.50H1180.00V843.90H1186.25V842.30H1190.75V842.50H1191.50V843.90H1203.00V841.90H1207.50V843.90H1239.00V842.30H1243.50V843.90H1246.00V824.30H1247.50V780.90H1249.00V774.40H1251.50V780.90H1252.50V812.30H1253.50V833.90H1255.25V838.20H1256.50V841.90H1257.00V843.90H1260.25V841.90H1264.50V840.50H1269.50V843.90H1271.50V841.30H1276.50V843.90H1279.75V840.90H1286.75V843.90H1290.75V841.90H1294.25V843.90H1313.75V842.30H1317.25V843.90H1375.75V840.90H1378.75V841.90H1384.25V843.90H1408.75V839.90H1412.25V843.90H1413.75V842.30H1418.75V843.90H1426.00V840.90H1429.00V843.90H1432.50V842.50H1436.00V843.90H1452.75V840.90H1453.50V834.60H1453.75V820.10H1455.00V797.90H1455.25V779.20H1456.00V744.90H1456.50V740.00H1460.00V744.90H1461.25V779.20H1461.50V797.90H1462.75V820.10H1463.25V834.60H1465.00V840.90H1465.25V843.90H1468.50V841.30H1475.25V843.90H1492.50V842.50H1496.50V843.90H1504.25V842.30H1508.25V843.90H1537.75V842.10H1546.25V843.90H1573.25V843.90Z" fill="#0c9472" />
<path d="M50.50 958.10V958.10H192.50V956.10H194.00V952.50H196.50V955.90H198.00V958.10H206.50V956.70H210.50V958.10H296.00V956.50H300.00V954.90H304.50V954.10H306.50V922.10H308.00V853.10H313.00V922.10H314.25V928.10H315.25V940.10H316.50V954.10H317.50V958.10H347.00V956.70H351.00V958.10H361.50V956.30H366.00V958.10H369.50V951.10H372.00V956.10H376.00V958.10H451.00V956.70H455.00V956.30H458.00V958.10H461.75V955.10H463.25V933.10H463.75V853.10H466.50V885.10H467.50V949.10H468.25V956.10H469.00V958.10H535.50V956.50H538.50V958.10H843.50V956.30H847.00V958.10H878.50V955.70H881.00V951.10H882.50V943.10H883.75V927.10H886.50V928.70H888.50V949.10H889.75V955.10H892.00V951.70H893.25V947.50H896.25V953.70H898.00V954.90H902.00V952.10H903.50V945.10H904.75V930.10H905.50V896.10H906.50V878.10H908.50V882.10H909.75V902.10H911.00V936.10H912.25V953.10H915.50V948.10H917.00V932.10H918.50V925.10H921.25V900.10H922.50V868.70H924.00V886.10H925.00V910.10H926.00V951.10H927.00V956.10H928.00V958.10H1023.00V956.50H1024.50V954.50H1026.00V956.50H1028.00V958.10H1053.00V956.50H1056.00V958.10H1060.50V955.90H1062.50V953.10H1064.50V954.90H1068.00V956.10H1073.00V958.10H1174.50V956.10H1175.75V946.10H1176.50V914.10H1177.50V870.10H1179.25V890.10H1181.00V928.10H1181.75V952.10H1182.75V958.10H1245.75V956.10H1246.75V949.10H1247.75V936.10H1248.50V927.10H1251.50V934.10H1252.50V945.10H1253.50V955.10H1254.75V958.10H1259.50V955.70H1261.00V953.10H1263.50V956.30H1265.00V958.10H1334.00V954.70H1338.00V956.70H1339.50V958.10H1369.00V956.10H1371.50V952.10H1372.50V945.50H1375.25V953.10H1376.50V956.50H1378.00V958.10H1379.00V956.10H1383.00V958.10H1441.00V956.70H1445.00V958.10H1454.75V956.10H1455.75V946.10H1456.75V921.10H1458.00V904.70H1459.50V921.10H1461.50V948.10H1462.25V956.10H1463.25V958.10H1573.25V958.10Z" fill="#fd0232" />
<text x="20.70" y="1067.50" font-size="41.4" font-weight="bold" fill="#000" textLength="23.93" lengthAdjust="spacingAndGlyphs" stroke="#000" stroke-width="1.2" stroke-linejoin="round">B</text>
<g fill="none" stroke="#c00000" stroke-width="6.0" stroke-linecap="round" stroke-linejoin="miter" stroke-miterlimit="6"><path d="M1401.38 1074.40H1457.42" stroke-linecap="butt"/><path d="M1412.99 1066.00L1399.38 1074.40L1412.99 1082.80"/><path d="M1445.81 1066.00L1459.42 1074.40L1445.81 1082.80"/></g>
<text x="1487.57" y="1088.40" font-size="38" font-weight="bold" fill="#000" textLength="68.79" lengthAdjust="spacingAndGlyphs" stroke="#000" stroke-width="0.4" stroke-linejoin="round">1kb</text>
<rect x="48.50" y="1109.80" width="1524.50" height="32.20" fill="url(#rulB)" />
<rect x="57.54" y="1111.00" width="1.30" height="29.80" fill="#f3a9a9" opacity="0.9"/>
<rect x="117.45" y="1111.00" width="1.30" height="29.80" fill="#f3a9a9" opacity="0.9"/>
<rect x="177.36" y="1111.00" width="1.30" height="29.80" fill="#f3a9a9" opacity="0.9"/>
<rect x="237.27" y="1111.00" width="1.30" height="29.80" fill="#f3a9a9" opacity="0.9"/>
<rect x="297.18" y="1111.00" width="1.30" height="29.80" fill="#f3a9a9" opacity="0.9"/>
<rect x="357.09" y="1111.00" width="1.30" height="29.80" fill="#f3a9a9" opacity="0.9"/>
<rect x="417.00" y="1111.00" width="1.30" height="29.80" fill="#f3a9a9" opacity="0.9"/>
<rect x="476.91" y="1111.00" width="1.30" height="29.80" fill="#f3a9a9" opacity="0.9"/>
<rect x="536.82" y="1111.00" width="1.30" height="29.80" fill="#f3a9a9" opacity="0.9"/>
<rect x="596.73" y="1111.00" width="1.30" height="29.80" fill="#f3a9a9" opacity="0.9"/>
<rect x="656.64" y="1111.00" width="1.30" height="29.80" fill="#f3a9a9" opacity="0.9"/>
<rect x="716.55" y="1111.00" width="1.30" height="29.80" fill="#f3a9a9" opacity="0.9"/>
<rect x="776.46" y="1111.00" width="1.30" height="29.80" fill="#f3a9a9" opacity="0.9"/>
<rect x="836.37" y="1111.00" width="1.30" height="29.80" fill="#f3a9a9" opacity="0.9"/>
<rect x="896.28" y="1111.00" width="1.30" height="29.80" fill="#f3a9a9" opacity="0.9"/>
<rect x="956.19" y="1111.00" width="1.30" height="29.80" fill="#f3a9a9" opacity="0.9"/>
<rect x="1016.10" y="1111.00" width="1.30" height="29.80" fill="#f3a9a9" opacity="0.9"/>
<rect x="1076.01" y="1111.00" width="1.30" height="29.80" fill="#f3a9a9" opacity="0.9"/>
<rect x="1135.92" y="1111.00" width="1.30" height="29.80" fill="#f3a9a9" opacity="0.9"/>
<rect x="1195.83" y="1111.00" width="1.30" height="29.80" fill="#f3a9a9" opacity="0.9"/>
<rect x="1255.74" y="1111.00" width="1.30" height="29.80" fill="#f3a9a9" opacity="0.9"/>
<rect x="1315.65" y="1111.00" width="1.30" height="29.80" fill="#f3a9a9" opacity="0.9"/>
<rect x="1375.56" y="1111.00" width="1.30" height="29.80" fill="#f3a9a9" opacity="0.9"/>
<rect x="1435.47" y="1111.00" width="1.30" height="29.80" fill="#f3a9a9" opacity="0.9"/>
<rect x="1495.38" y="1111.00" width="1.30" height="29.80" fill="#f3a9a9" opacity="0.9"/>
<rect x="1555.29" y="1111.00" width="1.30" height="29.80" fill="#f3a9a9" opacity="0.9"/>
<g filter="url(#soft2)">
<text x="66.04" y="1132.00" font-size="18.2" font-weight="normal" fill="#f8dcdc" textLength="47.87" lengthAdjust="spacingAndGlyphs" stroke="#fbe6e6" stroke-width="0.3" opacity="0.9">46,264,000</text>
<text x="125.95" y="1132.00" font-size="18.2" font-weight="normal" fill="#f8dcdc" textLength="47.87" lengthAdjust="spacingAndGlyphs" stroke="#fbe6e6" stroke-width="0.3" opacity="0.9">46,265,000</text>
<text x="185.86" y="1132.00" font-size="18.2" font-weight="normal" fill="#f8dcdc" textLength="47.87" lengthAdjust="spacingAndGlyphs" stroke="#fbe6e6" stroke-width="0.3" opacity="0.9">46,266,000</text>
<text x="245.77" y="1132.00" font-size="18.2" font-weight="normal" fill="#f8dcdc" textLength="47.87" lengthAdjust="spacingAndGlyphs" stroke="#fbe6e6" stroke-width="0.3" opacity="0.9">46,267,000</text>
<text x="305.68" y="1132.00" font-size="18.2" font-weight="normal" fill="#f8dcdc" textLength="47.87" lengthAdjust="spacingAndGlyphs" stroke="#fbe6e6" stroke-width="0.3" opacity="0.9">46,268,000</text>
<text x="365.59" y="1132.00" font-size="18.2" font-weight="normal" fill="#f8dcdc" textLength="47.87" lengthAdjust="spacingAndGlyphs" stroke="#fbe6e6" stroke-width="0.3" opacity="0.9">46,269,000</text>
<text x="425.50" y="1132.00" font-size="18.2" font-weight="normal" fill="#f8dcdc" textLength="47.87" lengthAdjust="spacingAndGlyphs" stroke="#fbe6e6" stroke-width="0.3" opacity="0.9">46,270,000</text>
<text x="485.41" y="1132.00" font-size="18.2" font-weight="normal" fill="#f8dcdc" textLength="47.87" lengthAdjust="spacingAndGlyphs" stroke="#fbe6e6" stroke-width="0.3" opacity="0.9">46,271,000</text>
<text x="545.32" y="1132.00" font-size="18.2" font-weight="normal" fill="#f8dcdc" textLength="47.87" lengthAdjust="spacingAndGlyphs" stroke="#fbe6e6" stroke-width="0.3" opacity="0.9">46,272,000</text>
<text x="605.23" y="1132.00" font-size="18.2" font-weight="normal" fill="#f8dcdc" textLength="47.87" lengthAdjust="spacingAndGlyphs" stroke="#fbe6e6" stroke-width="0.3" opacity="0.9">46,273,000</text>
<text x="665.14" y="1132.00" font-size="18.2" font-weight="normal" fill="#f8dcdc" textLength="47.87" lengthAdjust="spacingAndGlyphs" stroke="#fbe6e6" stroke-width="0.3" opacity="0.9">46,274,000</text>
<text x="725.05" y="1132.00" font-size="18.2" font-weight="normal" fill="#f8dcdc" textLength="47.87" lengthAdjust="spacingAndGlyphs" stroke="#fbe6e6" stroke-width="0.3" opacity="0.9">46,275,000</text>
<text x="784.96" y="1132.00" font-size="18.2" font-weight="normal" fill="#f8dcdc" textLength="47.87" lengthAdjust="spacingAndGlyphs" stroke="#fbe6e6" stroke-width="0.3" opacity="0.9">46,276,000</text>
<text x="844.87" y="1132.00" font-size="18.2" font-weight="normal" fill="#f8dcdc" textLength="47.87" lengthAdjust="spacingAndGlyphs" stroke="#fbe6e6" stroke-width="0.3" opacity="0.9">46,277,000</text>
<text x="904.78" y="1132.00" font-size="18.2" font-weight="normal" fill="#f8dcdc" textLength="47.87" lengthAdjust="spacingAndGlyphs" stroke="#fbe6e6" stroke-width="0.3" opacity="0.9">46,278,000</text>
<text x="964.69" y="1132.00" font-size="18.2" font-weight="normal" fill="#f8dcdc" textLength="47.87" lengthAdjust="spacingAndGlyphs" stroke="#fbe6e6" stroke-width="0.3" opacity="0.9">46,279,000</text>
<text x="1024.60" y="1132.00" font-size="18.2" font-weight="normal" fill="#f8dcdc" textLength="47.87" lengthAdjust="spacingAndGlyphs" stroke="#fbe6e6" stroke-width="0.3" opacity="0.9">46,280,000</text>
<text x="1084.51" y="1132.00" font-size="18.2" font-weight="normal" fill="#f8dcdc" textLength="47.87" lengthAdjust="spacingAndGlyphs" stroke="#fbe6e6" stroke-width="0.3" opacity="0.9">46,281,000</text>
<text x="1144.42" y="1132.00" font-size="18.2" font-weight="normal" fill="#f8dcdc" textLength="47.87" lengthAdjust="spacingAndGlyphs" stroke="#fbe6e6" stroke-width="0.3" opacity="0.9">46,282,000</text>
<text x="1204.33" y="1132.00" font-size="18.2" font-weight="normal" fill="#f8dcdc" textLength="47.87" lengthAdjust="spacingAndGlyphs" stroke="#fbe6e6" stroke-width="0.3" opacity="0.9">46,283,000</text>
<text x="1264.24" y="1132.00" font-size="18.2" font-weight="normal" fill="#f8dcdc" textLength="47.87" lengthAdjust="spacingAndGlyphs" stroke="#fbe6e6" stroke-width="0.3" opacity="0.9">46,284,000</text>
<text x="1324.15" y="1132.00" font-size="18.2" font-weight="normal" fill="#f8dcdc" textLength="47.87" lengthAdjust="spacingAndGlyphs" stroke="#fbe6e6" stroke-width="0.3" opacity="0.9">46,285,000</text>
<text x="1384.06" y="1132.00" font-size="18.2" font-weight="normal" fill="#f8dcdc" textLength="47.87" lengthAdjust="spacingAndGlyphs" stroke="#fbe6e6" stroke-width="0.3" opacity="0.9">46,286,000</text>
<text x="1443.97" y="1132.00" font-size="18.2" font-weight="normal" fill="#f8dcdc" textLength="47.87" lengthAdjust="spacingAndGlyphs" stroke="#fbe6e6" stroke-width="0.3" opacity="0.9">46,287,000</text>
<text x="1503.88" y="1132.00" font-size="18.2" font-weight="normal" fill="#f8dcdc" textLength="47.87" lengthAdjust="spacingAndGlyphs" stroke="#fbe6e6" stroke-width="0.3" opacity="0.9">46,288,000</text>
<text x="50.84" y="1132.00" font-size="18.2" font-weight="normal" fill="#f8dcdc" textLength="4.86" lengthAdjust="spacingAndGlyphs" stroke="#fbe6e6" stroke-width="0.3" opacity="0.9">0</text>
</g>
<rect x="43.50" y="1142.30" width="5.20" height="130.00" fill="#10b050" />
<rect x="43.30" y="1279.30" width="5.40" height="359.00" fill="#1b6fc2" />
<rect x="43.30" y="1645.20" width="6.60" height="335.80" fill="#10b050" />
<rect x="48.55" y="1142.60" width="1.70" height="502.40" fill="#80868a" />
<rect x="48.40" y="1981.00" width="1.60" height="10.00" fill="#80868a" />
<ellipse cx="54.2" cy="1276.7" rx="1.5" ry="1.0" fill="#777"/><ellipse cx="65.0" cy="1276.6" rx="2.5" ry="1.2" fill="#444"/>
<text x="35.00" y="1270.27" font-size="42" font-weight="bold" fill="#000" textLength="115.36" lengthAdjust="spacingAndGlyphs" transform="rotate(-90 35.00 1270.27)" stroke="#000" stroke-width="0.4" stroke-linejoin="round">Genes</text>
<text x="33.70" y="1525.32" font-size="40" font-weight="bold" fill="#000" textLength="172.36" lengthAdjust="spacingAndGlyphs" transform="rotate(-90 33.70 1525.32)" stroke="#000" stroke-width="0.4" stroke-linejoin="round">ATAC-seq</text>
<text x="33.70" y="1957.95" font-size="40.5" font-weight="bold" fill="#000" textLength="298.18" lengthAdjust="spacingAndGlyphs" transform="rotate(-90 33.70 1957.95)" stroke="#000" stroke-width="0.4" stroke-linejoin="round">ENCODE Project</text>
<rect x="50.00" y="1204.50" width="1516.00" height="2.20" fill="#a8a8a8" />
<rect x="50.00" y="1271.50" width="1517.00" height="3.40" fill="#cfd2d6" />
<rect x="50.00" y="1279.10" width="1517.00" height="2.40" fill="#74767a" />
<rect x="50.00" y="1395.95" width="1519.00" height="1.30" fill="#1e1e1e" />
<rect x="50.00" y="1404.30" width="1519.00" height="2.00" fill="#b0b0b0" />
<rect x="50.00" y="1463.50" width="1519.00" height="2.20" fill="#b0b0b0" />
<rect x="50.00" y="1471.50" width="1519.00" height="2.20" fill="#b0b0b0" />
<rect x="50.00" y="1586.95" width="1519.00" height="1.30" fill="#1e1e1e" />
<rect x="50.00" y="1596.00" width="1519.00" height="2.00" fill="#b0b0b0" />
<rect x="50.00" y="1644.50" width="1519.00" height="2.00" fill="#b0b0b0" />
<rect x="50.00" y="1741.30" width="1519.00" height="2.00" fill="#b0b0b0" />
<rect x="50.00" y="1856.45" width="1519.00" height="1.50" fill="#1e1e1e" />
<rect x="50.00" y="1865.30" width="1519.00" height="2.00" fill="#b0b0b0" />
<rect x="49.00" y="1980.55" width="1524.00" height="1.70" fill="#1e1e1e" />
<rect x="49.00" y="1989.30" width="1524.00" height="2.00" fill="#b0b0b0" />
<rect x="1569.50" y="1150.00" width="1.60" height="840.00" fill="#c3c6c9" />
<g filter="url(#soft)">
<rect x="361.50" y="1162.60" width="265.80" height="3.80" fill="#5a5a5a" />
<polygon points="352.10,1164.50 362.80,1157.90 362.80,1171.10" fill="#5a5a5a" />
<rect x="362.00" y="1154.50" width="41.80" height="18.60" fill="#fbbcc0" />
<rect x="362.00" y="1154.50" width="41.80" height="1.20" fill="#f4a4aa" opacity="0.7"/>
<rect x="362.00" y="1171.90" width="41.80" height="1.20" fill="#f4a4aa" opacity="0.7"/>
<rect x="362.00" y="1162.80" width="41.80" height="3.40" fill="#ab5a62" />
<rect x="603.00" y="1154.50" width="24.30" height="18.60" fill="#fbbcc0" />
<rect x="603.00" y="1154.50" width="24.30" height="1.20" fill="#f4a4aa" opacity="0.7"/>
<rect x="603.00" y="1171.90" width="24.30" height="1.20" fill="#f4a4aa" opacity="0.7"/>
<rect x="603.00" y="1162.80" width="24.30" height="3.40" fill="#ab5a62" />
<rect x="403.80" y="1154.50" width="35.60" height="18.60" fill="#f59aa1" opacity="0.86"/>
<rect x="454.60" y="1154.50" width="48.30" height="18.60" fill="#f59aa1" opacity="0.86"/>
<rect x="556.20" y="1154.50" width="46.80" height="18.60" fill="#f59aa1" opacity="0.86"/>
<rect x="656.60" y="1162.60" width="651.70" height="3.80" fill="#5a5a5a" />
<polygon points="647.20,1164.50 657.90,1157.90 657.90,1171.10" fill="#5a5a5a" />
<rect x="657.80" y="1154.50" width="44.40" height="18.60" fill="#fbbcc0" />
<rect x="657.80" y="1154.50" width="44.40" height="1.20" fill="#f4a4aa" opacity="0.7"/>
<rect x="657.80" y="1171.90" width="44.40" height="1.20" fill="#f4a4aa" opacity="0.7"/>
<rect x="657.80" y="1162.80" width="44.40" height="3.40" fill="#ab5a62" />
<rect x="1275.80" y="1154.50" width="32.50" height="18.60" fill="#fbbcc0" />
<rect x="1275.80" y="1154.50" width="32.50" height="1.20" fill="#f4a4aa" opacity="0.7"/>
<rect x="1275.80" y="1171.90" width="32.50" height="1.20" fill="#f4a4aa" opacity="0.7"/>
<rect x="1275.80" y="1162.80" width="32.50" height="3.40" fill="#ab5a62" />
<rect x="702.20" y="1154.50" width="9.70" height="18.60" fill="#f59aa1" opacity="0.86"/>
<rect x="731.40" y="1154.50" width="5.10" height="18.60" fill="#f59aa1" opacity="0.86"/>
<rect x="767.70" y="1154.50" width="5.10" height="18.60" fill="#f59aa1" opacity="0.86"/>
<rect x="780.20" y="1154.50" width="8.40" height="18.60" fill="#f59aa1" opacity="0.86"/>
<rect x="831.70" y="1154.50" width="6.90" height="18.60" fill="#f59aa1" opacity="0.86"/>
<rect x="970.20" y="1154.50" width="4.50" height="18.60" fill="#f59aa1" opacity="0.86"/>
<rect x="1112.40" y="1154.50" width="15.20" height="18.60" fill="#f59aa1" opacity="0.86"/>
<rect x="1132.70" y="1154.50" width="12.20" height="18.60" fill="#f59aa1" opacity="0.86"/>
<rect x="1160.60" y="1154.50" width="5.10" height="18.60" fill="#f59aa1" opacity="0.86"/>
<rect x="1182.20" y="1154.50" width="8.20" height="18.60" fill="#f59aa1" opacity="0.86"/>
<rect x="1228.30" y="1154.50" width="5.60" height="18.60" fill="#f59aa1" opacity="0.86"/>
<rect x="1238.50" y="1154.50" width="5.10" height="18.60" fill="#f59aa1" opacity="0.86"/>
<rect x="1258.80" y="1154.50" width="17.00" height="18.60" fill="#f59aa1" opacity="0.86"/>
<rect x="754.00" y="1154.50" width="2.00" height="18.60" fill="#f4a4aa" />
<rect x="1452.70" y="1162.60" width="115.90" height="3.80" fill="#5a5a5a" />
<polygon points="1443.30,1164.50 1454.00,1157.90 1454.00,1171.10" fill="#5a5a5a" />
<rect x="1453.00" y="1154.50" width="75.80" height="18.60" fill="#fbbcc0" />
<rect x="1453.00" y="1154.50" width="75.80" height="1.20" fill="#f4a4aa" opacity="0.7"/>
<rect x="1453.00" y="1171.90" width="75.80" height="1.20" fill="#f4a4aa" opacity="0.7"/>
<rect x="1453.00" y="1162.80" width="75.80" height="3.40" fill="#ab5a62" />
<rect x="1550.00" y="1154.50" width="5.00" height="18.60" fill="#f59aa1" opacity="0.86"/>
<rect x="1527.00" y="1154.50" width="2.00" height="18.60" fill="#f4a4aa" />
<text x="351.52" y="1192.60" font-size="17.2" font-weight="normal" fill="#2e2e2e" textLength="50.39" lengthAdjust="spacingAndGlyphs" stroke="#2e2e2e" stroke-width="0.3">SIX5/SIX5</text>
<text x="645.90" y="1192.60" font-size="17.2" font-weight="normal" fill="#2e2e2e" textLength="69.23" lengthAdjust="spacingAndGlyphs" stroke="#2e2e2e" stroke-width="0.3">DMPK/DMPK</text>
<text x="1442.02" y="1192.60" font-size="17.2" font-weight="normal" fill="#2e2e2e" textLength="75.79" lengthAdjust="spacingAndGlyphs" stroke="#2e2e2e" stroke-width="0.3">DMWD/DMWD</text>
</g>
<text x="473.34" y="1202.70" font-size="40" font-weight="bold" fill="#000" font-style="italic" textLength="79.57" lengthAdjust="spacingAndGlyphs" stroke="#000" stroke-width="0.4" stroke-linejoin="round">SIX5</text>
<text x="789.27" y="1202.70" font-size="40" font-weight="bold" fill="#000" font-style="italic" textLength="113.98" lengthAdjust="spacingAndGlyphs" stroke="#000" stroke-width="0.4" stroke-linejoin="round">DMPK</text>
<text x="677.37" y="1257.60" font-size="50" font-weight="bold" fill="#000" textLength="35.96" lengthAdjust="spacingAndGlyphs"  class="dv">▶</text>
<text x="725.26" y="1258.60" font-size="38.5" font-weight="bold" fill="#000" textLength="126.40" lengthAdjust="spacingAndGlyphs" stroke="#000" stroke-width="0.4" stroke-linejoin="round">(CTG)n</text>
<text x="64.00" y="1317.00" font-size="40" font-weight="bold" fill="#000" textLength="231.52" lengthAdjust="spacingAndGlyphs" stroke="#000" stroke-width="0.4" stroke-linejoin="round">Control CMs</text>
<text x="62.79" y="1441.60" font-size="40" font-weight="bold" fill="#000" textLength="212.06" lengthAdjust="spacingAndGlyphs" stroke="#000" stroke-width="0.4" stroke-linejoin="round">ATAC Peaks</text>
<text x="62.20" y="1509.50" font-size="40" font-weight="bold" fill="#000" textLength="183.21" lengthAdjust="spacingAndGlyphs" stroke="#000" stroke-width="0.4" stroke-linejoin="round">DM1 CMs</text>
<text x="62.78" y="1633.90" font-size="40" font-weight="bold" fill="#000" textLength="212.36" lengthAdjust="spacingAndGlyphs" stroke="#000" stroke-width="0.4" stroke-linejoin="round">ATAC Peaks</text>
<text x="63.41" y="1778.40" font-size="40" font-weight="bold" fill="#000" textLength="264.37" lengthAdjust="spacingAndGlyphs" stroke="#000" stroke-width="0.4" stroke-linejoin="round">CTCF ChIP-seq</text>
<text x="61.52" y="1905.20" font-size="40" font-weight="bold" fill="#000" textLength="201.47" lengthAdjust="spacingAndGlyphs" stroke="#000" stroke-width="0.4" stroke-linejoin="round">DNase-seq</text>
<text x="475.70" y="1684.50" font-size="38" font-weight="bold" fill="#000" textLength="134.28" lengthAdjust="spacingAndGlyphs" stroke="#000" stroke-width="0.4" stroke-linejoin="round">CTCF_2</text>
<text class="dv" transform="translate(611.92 1695.96) scale(1 1.3)" x="0" y="0" font-size="58" font-weight="normal" fill="#000" stroke="#000" stroke-width="0.25" textLength="38.66" lengthAdjust="spacingAndGlyphs">→</text>
<text x="673.58" y="1685.30" font-size="40" font-weight="bold" fill="#000" stroke="#000" stroke-width="0.4" stroke-linejoin="round">I</text>
<text x="689.98" y="1714.80" font-size="40" font-weight="bold" fill="#000" stroke="#000" stroke-width="0.4" stroke-linejoin="round">I</text>
<text class="dv" transform="translate(723.12 1725.36) scale(1 1.3)" x="0" y="0" font-size="58" font-weight="normal" fill="#000" stroke="#000" stroke-width="0.25" textLength="40.26" lengthAdjust="spacingAndGlyphs">←</text>
<text x="764.51" y="1714.40" font-size="38" font-weight="bold" fill="#000" textLength="133.29" lengthAdjust="spacingAndGlyphs" stroke="#000" stroke-width="0.4" stroke-linejoin="round">CTCF_1</text>
<rect x="378.80" y="1415.40" width="14.20" height="17.80" fill="#fcc4c4" />
<rect x="412.70" y="1415.40" width="12.70" height="17.80" fill="#fcc4c4" />
<rect x="521.40" y="1415.40" width="17.50" height="17.80" fill="#fcc4c4" />
<rect x="606.50" y="1415.40" width="53.10" height="17.80" fill="#fcc4c4" />
<rect x="666.70" y="1415.40" width="72.90" height="17.80" fill="#fcc4c4" />
<rect x="1249.20" y="1415.40" width="9.10" height="17.80" fill="#fcc4c4" />
<rect x="1443.70" y="1415.40" width="25.20" height="17.80" fill="#fcc4c4" />
<rect x="385.40" y="1606.70" width="6.90" height="17.00" fill="#fcc4c4" />
<text x="518.25" y="1460.45" font-size="40" font-weight="bold" fill="#1b6fc2" >+</text>
<text x="624.73" y="1468.33" font-size="43" font-weight="bold" fill="#1b6fc2" >*</text>
<text x="693.83" y="1468.33" font-size="43" font-weight="bold" fill="#1b6fc2" >*</text>
<text x="1243.25" y="1460.45" font-size="40" font-weight="bold" fill="#1b6fc2" >+</text>
<path d="M50.50 1396.00V1396.00H82.50V1390.44H85.75V1389.17H89.00V1390.44H92.75V1393.94H96.00V1396.00H115.00V1393.94H122.25V1390.44H129.25V1388.86H133.25V1381.71H137.00V1385.37H140.25V1392.03H143.75V1394.41H146.75V1396.00H162.00V1393.94H172.25V1390.44H178.50V1392.83H183.25V1390.44H186.25V1393.94H190.50V1390.44H196.75V1394.41H198.50V1396.00H202.50V1393.94H215.00V1396.00H251.50V1394.41H258.00V1396.00H262.75V1393.94H269.00V1390.44H272.25V1393.94H281.75V1396.00H312.75V1390.44H315.75V1376.95H319.00V1373.78H323.00V1388.86H327.00V1390.44H341.25V1393.62H345.25V1388.86H347.50V1390.44H351.50V1388.86H358.75V1393.94H365.75V1388.86H373.00V1380.13H380.25V1373.78H384.25V1369.49H387.25V1376.95H391.25V1385.68H395.25V1388.86H398.50V1390.44H401.50V1394.41H409.50V1384.10H412.75V1376.95H416.75V1369.49H420.75V1367.75H423.75V1388.86H430.25V1379.65H434.25V1384.10H437.75V1393.62H442.00V1385.68H445.25V1384.10H452.50V1388.86H456.25V1393.62H460.25V1388.86H466.75V1385.68H474.25V1395.21H477.00V1390.44H485.00V1388.86H492.00V1385.68H499.25V1379.65H506.25V1381.71H510.25V1384.10H513.50V1390.44H517.25V1373.78H521.00V1360.29H524.50V1341.71H531.50V1363.46H535.00V1372.19H538.50V1381.71H542.00V1395.21H545.25V1393.62H550.00V1388.86H553.25V1386.00H557.25V1388.86H560.25V1393.62H564.25V1388.86H568.25V1380.92H571.50V1373.78H574.50V1379.65H578.50V1381.71H582.50V1383.30H585.75V1385.37H589.75V1388.86H592.75V1380.92H596.75V1379.65H600.00V1383.30H603.25V1385.37H606.25V1388.86H610.25V1373.78H614.25V1367.75H617.50V1371.40H621.50V1376.48H624.50V1365.05H628.50V1326.16H632.50V1329.81H636.25V1316.16H639.75V1329.81H642.75V1312.98H646.75V1294.73H650.25V1303.94H654.00V1325.37H656.75V1376.48H660.25V1384.10H664.25V1376.48H668.25V1380.92H675.50V1363.14H678.50V1369.49H682.00V1385.37H686.50V1379.65H689.75V1329.81H693.75V1316.16H697.25V1312.98H700.50V1326.63H704.25V1364.25H708.00V1321.87H711.50V1287.27H715.00V1300.76H718.50V1321.87H722.25V1316.16H725.75V1347.90H729.25V1380.92H733.25V1372.19H737.00V1365.05H739.75V1379.65H743.25V1385.37H747.25V1381.71H750.75V1390.44H754.00V1393.94H762.00V1396.00H765.00V1390.44H769.00V1389.17H771.50V1390.44H786.50V1395.21H794.50V1393.62H800.00V1394.25H807.25V1396.00H834.25V1394.25H841.00V1390.76H847.50V1389.17H851.00V1390.76H854.75V1393.94H890.75V1390.76H894.75V1394.57H898.50V1396.00H909.50V1394.25H915.75V1396.00H923.00V1394.25H931.00V1386.00H936.75V1389.17H940.75V1394.25H944.75V1386.00H948.00V1389.17H951.50V1394.25H955.50V1390.76H977.00V1395.21H980.25V1394.25H988.00V1389.17H992.00V1390.76H995.50V1396.00H1060.25V1394.25H1067.25V1396.00H1070.75V1394.25H1074.25V1386.00H1077.75V1389.17H1081.25V1394.25H1085.00V1396.00H1106.75V1390.76H1113.50V1394.25H1121.00V1382.03H1127.75V1396.00H1131.25V1394.25H1139.00V1396.00H1150.00V1394.25H1153.50V1389.17H1156.75V1390.76H1160.25V1394.25H1164.00V1386.00H1171.50V1396.00H1175.50V1394.25H1185.75V1396.00H1218.25V1394.25H1228.50V1379.97H1236.00V1394.25H1239.75V1390.76H1242.75V1389.17H1246.75V1365.37H1257.25V1376.79H1260.75V1390.76H1268.75V1389.17H1272.25V1394.25H1275.50V1390.76H1279.00V1394.25H1283.00V1390.76H1300.00V1396.00H1325.00V1390.76H1329.00V1394.25H1333.00V1396.00H1384.00V1390.76H1387.00V1386.00H1390.50V1384.41H1394.00V1390.76H1397.75V1379.97H1400.75V1381.56H1404.75V1396.00H1408.25V1390.76H1419.00V1384.41H1426.50V1381.56H1430.00V1390.76H1433.75V1389.17H1437.00V1390.76H1440.75V1369.81H1444.25V1363.46H1448.00V1369.81H1451.50V1374.10H1455.25V1369.81H1458.75V1384.41H1462.50V1369.81H1466.25V1372.51H1469.50V1381.56H1473.00V1384.41H1476.50V1390.76H1480.50V1381.56H1487.00V1389.17H1494.50V1390.76H1498.00V1394.25H1501.25V1396.00H1509.25V1390.76H1515.75V1396.00H1531.25V1394.25H1537.75V1396.00H1541.75V1394.25H1548.00V1396.00H1564.00V1394.25H1568.75V1396.00H1569.25V1396.00Z" fill="#fd0232" />
<path d="M50.50 1587.00V1587.00H60.75V1581.92H67.75V1571.92H74.50V1587.00H82.50V1582.24H88.50V1587.00H100.75V1582.24H106.75V1587.00H154.00V1582.24H161.00V1587.00H172.25V1582.24H175.75V1576.37H179.25V1582.24H197.50V1576.37H203.75V1582.24H215.00V1576.37H221.75V1587.00H240.50V1582.24H247.50V1587.00H258.75V1582.24H272.25V1587.00H277.00V1582.24H283.00V1587.00H295.25V1576.37H301.50V1587.00H305.50V1576.37H315.75V1571.92H319.25V1576.37H323.50V1571.92H327.00V1576.37H331.00V1587.00H345.50V1576.37H348.50V1571.92H355.00V1582.24H363.50V1571.92H369.75V1582.24H377.25V1561.76H381.00V1550.65H384.25V1533.83H388.00V1544.62H391.75V1540.17H395.25V1544.62H398.50V1566.05H405.50V1576.37H409.50V1582.24H412.75V1561.76H416.75V1555.41H423.75V1582.24H427.50V1587.00H431.00V1582.24H434.50V1576.37H438.50V1571.92H441.75V1561.29H445.00V1576.37H448.50V1582.24H466.75V1587.00H474.50V1582.24H481.00V1587.00H485.00V1576.37H489.00V1566.05H492.50V1576.37H499.25V1571.92H509.50V1582.24H517.50V1571.92H521.50V1566.05H524.50V1561.29H527.75V1571.92H531.75V1582.24H535.00V1587.00H539.25V1576.37H545.25V1582.24H557.25V1587.00H560.25V1582.24H564.00V1576.37H567.75V1582.24H571.50V1587.00H578.25V1582.24H582.00V1587.00H600.00V1576.37H603.75V1571.92H606.25V1582.24H610.75V1576.37H614.25V1582.24H618.00V1576.37H624.50V1561.29H632.00V1571.92H635.75V1566.05H642.50V1576.37H646.25V1582.24H650.75V1566.05H656.75V1582.24H660.25V1587.00H669.00V1582.24H678.50V1587.00H683.00V1582.24H693.75V1571.92H697.25V1561.29H704.00V1576.37H707.50V1555.41H711.50V1544.62H714.50V1566.05H718.25V1544.62H722.00V1550.65H725.50V1561.29H729.25V1582.24H733.25V1576.37H739.75V1587.00H747.25V1576.37H751.25V1571.92H757.50V1582.24H761.50V1587.00H786.50V1582.24H793.75V1587.00H801.50V1582.24H804.50V1576.37H808.00V1582.24H812.00V1587.00H819.00V1582.24H833.75V1587.00H837.25V1582.24H841.00V1576.37H844.50V1566.05H848.00V1561.29H851.00V1576.37H855.00V1566.05H858.75V1555.41H862.50V1576.37H865.75V1571.92H869.25V1576.37H873.00V1587.00H883.25V1582.24H890.75V1587.00H898.75V1582.24H902.00V1576.37H908.75V1587.00H913.00V1582.24H916.25V1576.37H931.00V1571.92H937.25V1587.00H952.00V1582.24H958.75V1587.00H974.25V1582.24H980.25V1587.00H992.00V1582.24H1002.00V1587.00H1006.25V1582.24H1015.75V1587.00H1020.75V1576.37H1027.75V1587.00H1042.75V1582.24H1048.50V1587.00H1103.25V1582.24H1109.75V1571.92H1117.00V1582.24H1124.25V1587.00H1131.25V1582.24H1139.25V1587.00H1146.00V1582.24H1159.75V1587.00H1229.00V1582.24H1232.50V1576.37H1236.00V1582.24H1242.50V1571.92H1257.25V1566.05H1260.75V1571.92H1264.25V1587.00H1272.25V1582.24H1275.50V1576.37H1279.00V1550.65H1286.50V1571.92H1289.75V1576.37H1293.25V1571.92H1300.00V1587.00H1325.00V1571.92H1329.50V1582.24H1340.00V1566.05H1347.50V1587.00H1358.00V1582.24H1372.25V1587.00H1380.00V1582.24H1384.00V1576.37H1390.00V1582.24H1394.00V1576.37H1401.50V1582.24H1405.25V1576.37H1408.25V1571.92H1412.00V1582.24H1415.75V1576.37H1419.50V1571.92H1423.00V1576.37H1426.50V1571.92H1430.00V1582.24H1434.00V1571.92H1440.75V1566.05H1444.25V1529.06H1448.00V1540.17H1451.50V1571.92H1455.25V1566.05H1462.50V1571.92H1466.25V1566.05H1473.00V1576.37H1483.75V1561.29H1487.25V1566.05H1490.75V1576.37H1498.25V1587.00H1506.00V1582.24H1509.50V1576.37H1513.00V1582.24H1537.75V1576.37H1545.25V1582.24H1548.50V1576.37H1552.00V1582.24H1563.00V1587.00H1569.25V1587.00Z" fill="#fd0232" />
<path d="M50.50 1856.50L50.50 1856.50L344.00 1856.50L347.00 1853.70L351.00 1853.70L354.00 1856.50L355.00 1856.50L357.85 1853.70L361.65 1853.70L364.50 1856.50L421.00 1856.50L423.76 1852.30L427.44 1852.30L430.20 1856.50L486.00 1856.50L488.10 1854.10L490.90 1854.10L493.00 1856.50L532.50 1856.50L535.20 1853.30L538.80 1853.30L541.50 1856.50L543.50 1856.50L545.45 1854.10L548.05 1854.10L550.00 1856.50L650.16 1856.50L651.43 1854.53L652.70 1852.12L653.65 1852.01L654.60 1851.24L655.56 1850.81L656.51 1851.50L657.78 1852.46L659.05 1852.26L660.06 1852.44L661.08 1851.92L662.10 1849.93L663.11 1850.31L664.13 1848.97L665.08 1849.82L666.03 1849.62L666.98 1850.72L667.94 1849.88L669.04 1848.40L670.14 1848.07L671.24 1846.62L672.51 1844.47L673.78 1843.40L675.05 1837.95L676.32 1834.22L677.33 1832.01L678.35 1829.76L679.37 1825.29L680.38 1824.98L681.40 1823.39L682.41 1821.96L683.51 1821.45L684.61 1820.19L685.71 1820.39L686.98 1816.79L688.25 1814.71L690.03 1804.84L691.56 1796.57L693.33 1802.70L695.11 1799.58L696.13 1801.95L697.14 1803.00L698.67 1799.99L700.19 1806.72L701.71 1820.58L703.49 1834.90L704.76 1840.86L706.03 1846.64L707.13 1848.46L708.23 1850.76L709.33 1852.75L710.41 1853.74L711.49 1854.32L712.57 1855.15L713.65 1855.99L714.41 1856.50L763.00 1856.50L763.75 1854.90L764.75 1854.90L765.50 1856.50L815.00 1856.50L817.70 1854.10L821.30 1854.10L824.00 1856.50L840.00 1856.50L841.95 1853.90L844.55 1853.90L846.50 1856.50L868.50 1856.50L871.65 1853.70L875.85 1853.70L879.00 1856.50L951.00 1856.50L953.50 1854.30L956.00 1855.10L959.00 1852.90L962.00 1852.10L970.50 1852.10L971.60 1856.50L1210.56 1856.50L1211.83 1855.38L1213.10 1854.21L1214.37 1853.04L1215.63 1852.05L1216.90 1851.31L1218.17 1850.25L1219.44 1849.35L1220.71 1847.14L1221.98 1847.68L1223.25 1848.99L1224.52 1849.75L1225.79 1850.03L1227.06 1849.17L1228.33 1850.15L1229.60 1850.62L1231.38 1847.54L1232.90 1845.56L1234.05 1845.35L1235.19 1845.29L1236.33 1844.66L1237.48 1844.81L1239.00 1849.22L1240.10 1849.68L1241.20 1851.41L1242.30 1852.10L1243.57 1853.25L1244.84 1854.09L1246.11 1854.61L1247.38 1855.29L1248.65 1855.77L1249.92 1856.25L1311.50 1856.50L1314.00 1854.10L1317.50 1852.70L1321.50 1852.70L1324.50 1854.70L1328.00 1855.30L1329.50 1853.70L1335.00 1853.70L1336.50 1856.50L1395.50 1856.50L1397.45 1853.90L1400.05 1853.90L1402.00 1856.50L1403.00 1856.50L1403.90 1855.10L1405.10 1855.10L1406.00 1856.50L1455.00 1856.50L1456.50 1853.30L1458.00 1852.10L1464.50 1852.10L1466.00 1856.50L1569.00 1856.50L1569.00 1856.50Z" fill="#0c9472" />
<path d="M50.50 1980.60L50.50 1980.60L311.00 1980.60L312.00 1978.60L319.50 1978.60L320.50 1980.60L486.35 1980.60L487.20 1980.26L488.04 1979.94L488.89 1979.56L489.74 1979.02L490.58 1978.93L491.43 1978.56L492.28 1978.28L493.12 1978.45L493.97 1977.92L494.81 1977.57L495.66 1977.15L496.51 1977.83L497.35 1977.64L498.20 1977.98L499.05 1977.17L499.89 1977.41L500.74 1978.25L501.59 1977.27L502.43 1976.84L503.28 1976.83L504.13 1976.48L504.97 1976.87L505.82 1976.81L506.67 1975.46L507.51 1976.24L508.36 1975.78L509.21 1975.48L510.05 1975.79L510.90 1974.55L511.75 1974.39L512.59 1973.22L513.44 1973.78L514.29 1973.28L515.13 1973.40L515.98 1972.80L516.83 1973.08L517.67 1972.24L518.52 1969.25L519.37 1967.98L520.21 1965.82L521.06 1963.59L521.90 1962.00L522.92 1957.76L523.94 1953.17L524.83 1951.54L525.71 1947.71L526.73 1947.82L527.75 1945.99L528.89 1948.36L530.03 1948.26L531.05 1951.45L532.06 1956.40L533.08 1960.34L534.10 1963.11L535.11 1968.61L536.13 1971.83L537.27 1976.09L538.41 1979.13L539.32 1978.81L540.23 1978.79L541.13 1979.18L542.04 1979.36L542.95 1979.28L543.85 1979.01L544.76 1979.20L545.61 1979.52L546.46 1979.46L547.30 1979.53L548.15 1979.55L548.99 1979.18L549.84 1979.49L550.69 1979.30L551.53 1979.36L552.38 1979.49L553.23 1979.12L554.07 1979.37L554.92 1978.99L555.77 1979.24L556.61 1978.96L557.46 1979.03L558.31 1978.91L559.15 1978.29L560.00 1978.32L560.95 1977.73L561.90 1975.76L562.86 1975.94L563.81 1974.50L564.63 1972.45L565.46 1972.01L566.29 1972.35L567.11 1969.27L568.00 1970.81L568.89 1970.39L569.78 1968.83L570.67 1969.58L571.49 1969.98L572.32 1970.83L573.14 1971.11L573.97 1970.24L574.92 1971.88L575.87 1971.85L576.83 1973.23L577.78 1973.86L578.73 1973.09L579.68 1974.67L580.63 1974.91L581.59 1974.78L582.43 1976.42L583.28 1976.73L584.13 1975.72L584.97 1976.21L585.82 1977.36L586.67 1977.71L587.57 1977.30L588.48 1977.40L589.39 1978.46L590.29 1978.07L591.20 1978.47L592.11 1978.98L593.02 1979.37L593.97 1979.10L594.92 1978.74L595.87 1977.29L596.83 1977.64L597.78 1976.34L598.73 1976.47L599.68 1974.72L600.63 1974.53L601.59 1975.06L602.54 1975.16L603.49 1973.66L604.44 1975.03L605.40 1975.09L606.35 1974.75L607.30 1974.59L608.25 1975.55L609.21 1976.66L610.16 1976.15L611.11 1977.69L612.06 1978.35L613.02 1977.72L613.97 1977.12L614.92 1977.36L615.87 1976.84L616.83 1975.91L617.78 1974.85L618.73 1975.26L619.68 1974.07L620.63 1971.53L621.59 1970.05L622.54 1969.56L623.49 1968.20L624.51 1965.24L625.52 1963.09L626.54 1960.13L627.39 1955.94L628.23 1949.56L629.08 1945.83L629.93 1939.28L630.77 1935.61L631.62 1928.21L632.47 1922.65L633.31 1916.13L634.16 1911.19L635.01 1906.00L635.85 1904.67L636.70 1899.98L637.71 1896.98L638.73 1894.05L639.75 1895.33L640.76 1896.30L641.65 1894.82L642.54 1893.25L643.43 1896.77L644.32 1898.12L645.33 1898.37L646.35 1899.20L647.37 1903.08L648.38 1904.98L649.40 1909.89L650.41 1915.66L651.30 1923.16L652.19 1931.36L653.08 1939.77L653.97 1948.59L654.81 1954.94L655.66 1958.68L656.51 1962.91L657.35 1966.14L658.20 1969.47L659.05 1973.25L659.89 1974.12L660.74 1976.23L661.59 1978.12L662.54 1977.50L663.49 1978.17L664.44 1977.18L665.40 1977.92L666.24 1976.81L667.09 1976.65L667.94 1976.75L668.78 1975.57L669.63 1975.61L670.48 1975.02L671.32 1974.12L672.17 1975.41L673.02 1975.80L673.86 1974.90L674.71 1973.78L675.56 1974.71L676.51 1975.11L677.46 1973.66L678.41 1974.59L679.37 1975.39L680.32 1975.17L681.27 1976.82L682.22 1976.94L683.17 1978.14L684.00 1977.14L684.83 1975.75L685.65 1974.68L686.48 1973.87L687.32 1972.75L688.17 1969.99L689.02 1968.34L689.86 1965.39L690.71 1961.14L691.56 1956.93L692.40 1954.11L693.25 1951.65L694.10 1948.28L695.11 1948.71L696.13 1947.79L697.14 1945.92L697.99 1945.67L698.84 1945.14L699.68 1943.98L700.70 1946.27L701.71 1949.38L702.73 1952.09L703.75 1953.12L704.89 1950.49L706.03 1949.48L706.88 1945.98L707.72 1941.68L708.57 1935.26L709.42 1932.18L710.26 1925.50L711.11 1920.75L711.96 1915.45L712.80 1908.37L713.65 1904.29L714.67 1897.03L715.68 1889.28L716.57 1887.39L717.46 1882.54L718.48 1887.52L719.49 1891.30L720.51 1897.88L721.52 1902.83L722.67 1910.89L723.81 1918.07L724.83 1928.16L725.84 1937.96L726.98 1947.75L728.13 1958.57L728.97 1964.39L729.82 1968.38L730.67 1973.75L731.51 1976.04L732.36 1976.92L733.21 1978.67L734.05 1979.57L734.90 1980.01L735.75 1980.60L1248.00 1980.60L1250.00 1978.60L1252.50 1977.20L1255.00 1978.00L1260.00 1978.40L1261.00 1980.60L1403.00 1980.60L1404.00 1978.40L1408.50 1978.40L1409.50 1980.60L1433.50 1980.60L1434.50 1978.20L1438.50 1978.20L1439.50 1980.60L1442.00 1980.60L1443.00 1975.40L1454.00 1975.40L1455.00 1977.80L1465.00 1977.80L1466.50 1977.20L1468.50 1978.20L1474.50 1978.60L1475.50 1980.60L1484.00 1980.60L1485.00 1978.40L1493.50 1978.40L1494.50 1980.60L1569.00 1980.60L1569.00 1980.60Z" fill="#fd0232" />
<g filter="url(#soft2)">
<rect x="1554.85" y="1289.60" width="1.10" height="106.40" fill="#2a2a2a" />
<rect x="1550.60" y="1289.10" width="4.80" height="1.00" fill="#2a2a2a" />
<rect x="1550.60" y="1300.92" width="4.80" height="1.00" fill="#2a2a2a" />
<rect x="1550.60" y="1312.74" width="4.80" height="1.00" fill="#2a2a2a" />
<rect x="1550.60" y="1324.57" width="4.80" height="1.00" fill="#2a2a2a" />
<rect x="1550.60" y="1336.39" width="4.80" height="1.00" fill="#2a2a2a" />
<rect x="1550.60" y="1348.21" width="4.80" height="1.00" fill="#2a2a2a" />
<rect x="1550.60" y="1360.03" width="4.80" height="1.00" fill="#2a2a2a" />
<rect x="1550.60" y="1371.86" width="4.80" height="1.00" fill="#2a2a2a" />
<rect x="1550.60" y="1383.68" width="4.80" height="1.00" fill="#2a2a2a" />
<text x="1531.06" y="1297.60" font-size="16.5" font-weight="normal" fill="#2a2a2a" textLength="18.50" lengthAdjust="spacingAndGlyphs" >45.0</text>
<rect x="1558.40" y="1297.60" width="8.40" height="13.40" fill="#fff" stroke="#111" stroke-width="1.8" rx="1.2"/>
<polygon points="1562.60,1300.60 1565.60,1307.80 1559.60,1307.80" fill="#111" />
<rect x="1558.40" y="1312.40" width="8.40" height="13.40" fill="#fff" stroke="#111" stroke-width="1.8" rx="1.2"/>
<polygon points="1562.60,1322.80 1565.60,1315.60 1559.60,1315.60" fill="#111" />
<rect x="1554.85" y="1481.80" width="1.10" height="105.20" fill="#2a2a2a" />
<rect x="1550.60" y="1481.30" width="4.80" height="1.00" fill="#2a2a2a" />
<rect x="1550.60" y="1507.60" width="4.80" height="1.00" fill="#2a2a2a" />
<rect x="1550.60" y="1533.90" width="4.80" height="1.00" fill="#2a2a2a" />
<rect x="1550.60" y="1560.20" width="4.80" height="1.00" fill="#2a2a2a" />
<text x="1530.76" y="1489.80" font-size="16.5" font-weight="normal" fill="#2a2a2a" textLength="18.80" lengthAdjust="spacingAndGlyphs" >20.0</text>
<rect x="1558.40" y="1489.40" width="8.40" height="13.40" fill="#fff" stroke="#111" stroke-width="1.8" rx="1.2"/>
<polygon points="1562.60,1492.40 1565.60,1499.60 1559.60,1499.60" fill="#111" />
<rect x="1558.40" y="1504.20" width="8.40" height="13.40" fill="#fff" stroke="#111" stroke-width="1.8" rx="1.2"/>
<polygon points="1562.60,1514.60 1565.60,1507.40 1559.60,1507.40" fill="#111" />
<rect x="1554.85" y="1751.00" width="1.10" height="105.60" fill="#2a2a2a" />
<rect x="1550.60" y="1750.50" width="4.80" height="1.00" fill="#2a2a2a" />
<rect x="1550.60" y="1761.06" width="4.80" height="1.00" fill="#2a2a2a" />
<rect x="1550.60" y="1771.62" width="4.80" height="1.00" fill="#2a2a2a" />
<rect x="1550.60" y="1782.18" width="4.80" height="1.00" fill="#2a2a2a" />
<rect x="1550.60" y="1792.74" width="4.80" height="1.00" fill="#2a2a2a" />
<rect x="1550.60" y="1803.30" width="4.80" height="1.00" fill="#2a2a2a" />
<rect x="1550.60" y="1813.86" width="4.80" height="1.00" fill="#2a2a2a" />
<rect x="1550.60" y="1824.42" width="4.80" height="1.00" fill="#2a2a2a" />
<rect x="1550.60" y="1834.98" width="4.80" height="1.00" fill="#2a2a2a" />
<rect x="1550.60" y="1845.54" width="4.80" height="1.00" fill="#2a2a2a" />
<text x="1525.99" y="1759.00" font-size="16.5" font-weight="normal" fill="#2a2a2a" textLength="23.52" lengthAdjust="spacingAndGlyphs" >100.0</text>
<rect x="1558.40" y="1759.60" width="8.40" height="13.40" fill="#fff" stroke="#111" stroke-width="1.8" rx="1.2"/>
<polygon points="1562.60,1762.60 1565.60,1769.80 1559.60,1769.80" fill="#111" />
<rect x="1558.40" y="1774.40" width="8.40" height="13.40" fill="#fff" stroke="#111" stroke-width="1.8" rx="1.2"/>
<polygon points="1562.60,1784.80 1565.60,1777.60 1559.60,1777.60" fill="#111" />
<rect x="1554.85" y="1877.40" width="1.10" height="103.40" fill="#2a2a2a" />
<rect x="1550.60" y="1876.90" width="4.80" height="1.00" fill="#2a2a2a" />
<rect x="1550.60" y="1887.24" width="4.80" height="1.00" fill="#2a2a2a" />
<rect x="1550.60" y="1897.58" width="4.80" height="1.00" fill="#2a2a2a" />
<rect x="1550.60" y="1907.92" width="4.80" height="1.00" fill="#2a2a2a" />
<rect x="1550.60" y="1918.26" width="4.80" height="1.00" fill="#2a2a2a" />
<rect x="1550.60" y="1928.60" width="4.80" height="1.00" fill="#2a2a2a" />
<rect x="1550.60" y="1938.94" width="4.80" height="1.00" fill="#2a2a2a" />
<rect x="1550.60" y="1949.28" width="4.80" height="1.00" fill="#2a2a2a" />
<rect x="1550.60" y="1959.62" width="4.80" height="1.00" fill="#2a2a2a" />
<rect x="1550.60" y="1969.96" width="4.80" height="1.00" fill="#2a2a2a" />
<text x="1525.57" y="1885.40" font-size="16.5" font-weight="normal" fill="#2a2a2a" textLength="23.95" lengthAdjust="spacingAndGlyphs" >500.0</text>
<rect x="1558.40" y="1883.60" width="8.40" height="13.40" fill="#fff" stroke="#111" stroke-width="1.8" rx="1.2"/>
<polygon points="1562.60,1886.60 1565.60,1893.80 1559.60,1893.80" fill="#111" />
<rect x="1558.40" y="1898.40" width="8.40" height="13.40" fill="#fff" stroke="#111" stroke-width="1.8" rx="1.2"/>
<polygon points="1562.60,1908.80 1565.60,1901.60 1559.60,1901.60" fill="#111" />
<rect x="1554.20" y="1647.60" width="14.40" height="92.00" fill="#f1f1f1" />
<rect x="1554.60" y="1672.60" width="13.40" height="36.00" fill="#c4c4c4" />
<path d="M1557.8 1662.4 L1561.3 1657.6 L1564.8 1662.4" fill="none" stroke="#4a4a4a" stroke-width="1.5" />
<path d="M1557.8 1725.4 L1561.3 1730.2 L1564.8 1725.4" fill="none" stroke="#4a4a4a" stroke-width="1.5" />
</g>
</svg>
</body>
</html>
